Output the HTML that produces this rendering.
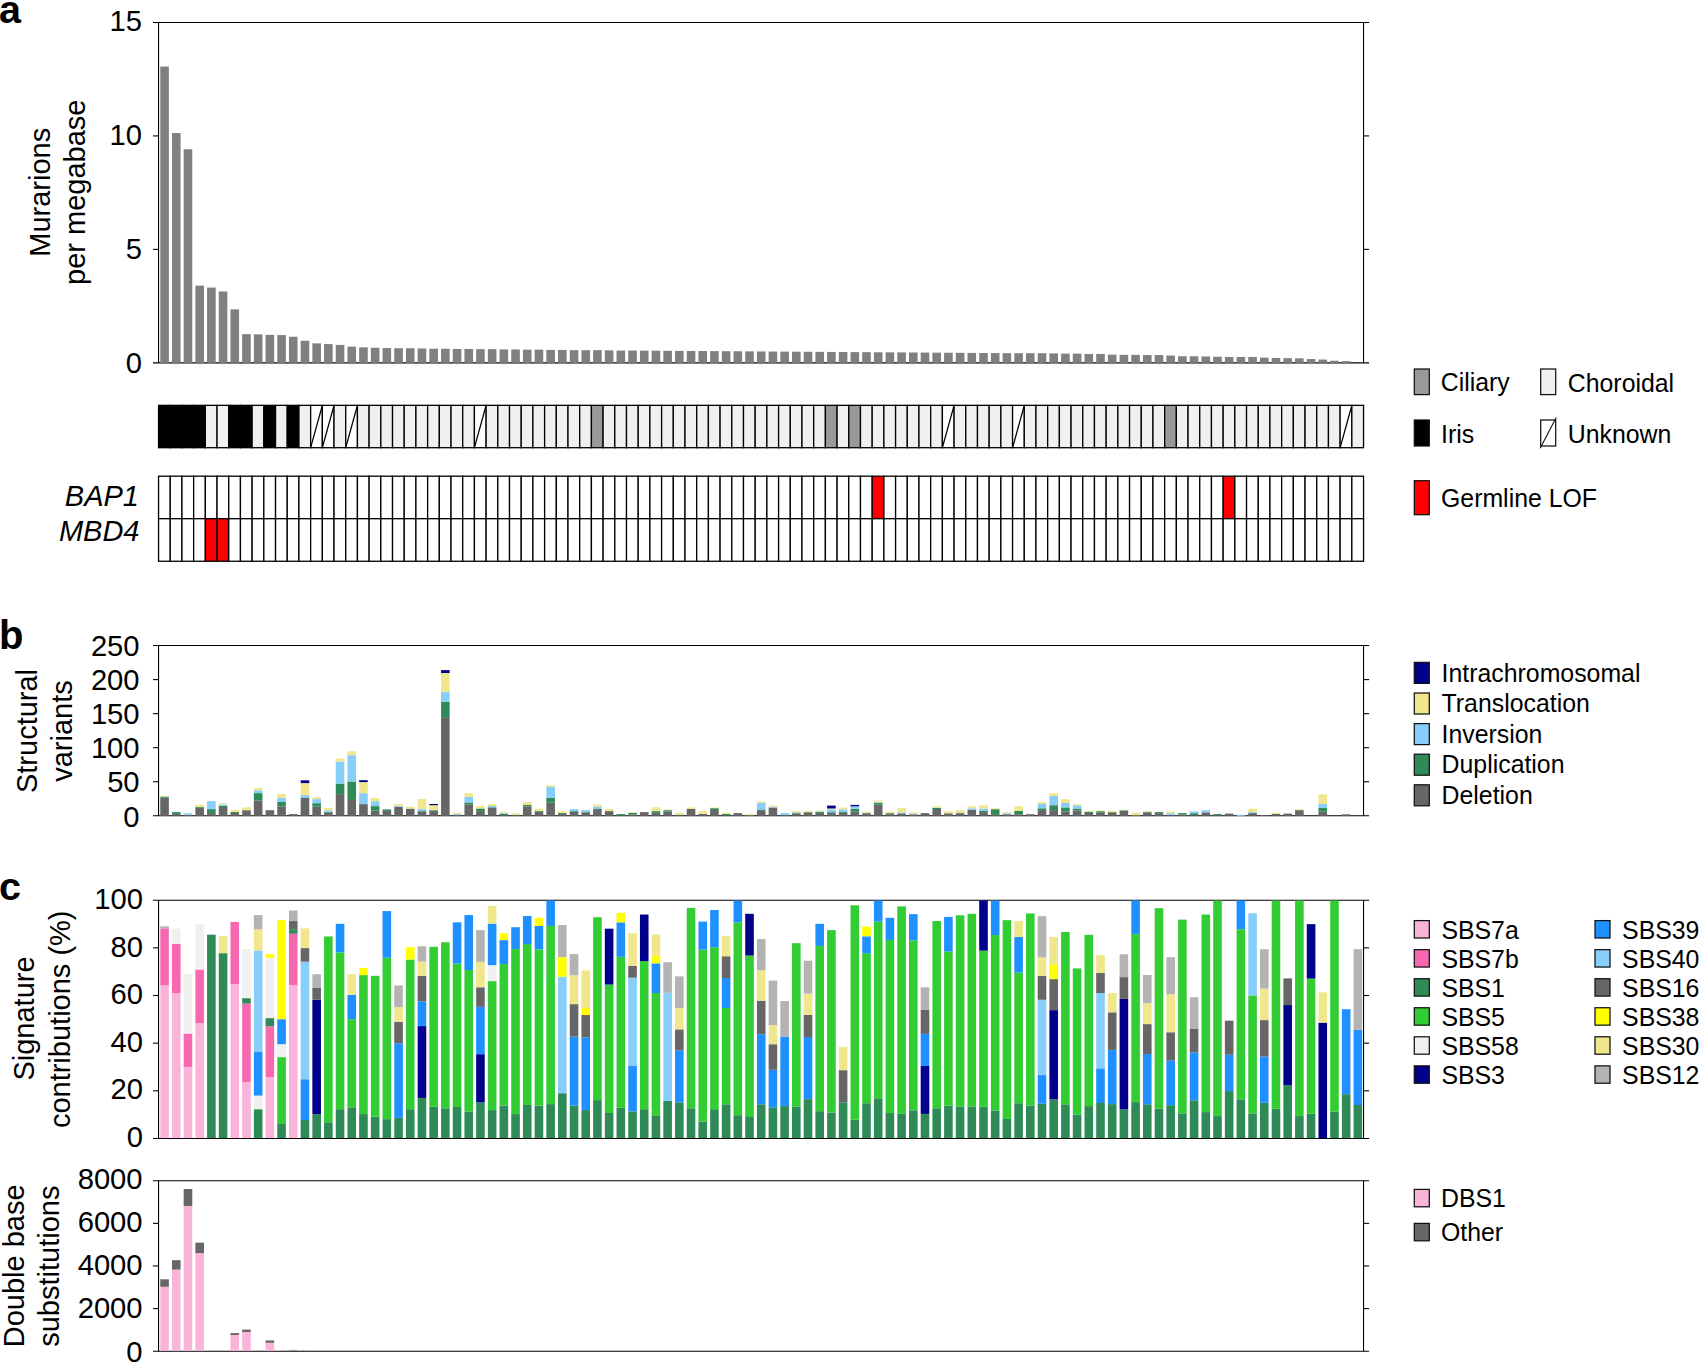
<!DOCTYPE html>
<html lang="en">
<head>
<meta charset="utf-8">
<title>Figure</title>
<style>
html,body{margin:0;padding:0;background:#fff;}
body{width:1699px;height:1363px;overflow:hidden;}
svg{display:block;font-family:"Liberation Sans",Arial,Helvetica,sans-serif;fill:#000;}
svg rect{shape-rendering:auto;}
</style>
</head>
<body>
<svg width="1699" height="1363" viewBox="0 0 1699 1363">
<rect x="0" y="0" width="1699" height="1363" fill="#fff"/>
<g id="panel-a">
<line x1="158.55" y1="22.45" x2="158.55" y2="362.85" stroke="#000" stroke-width="1.1"/>
<line x1="1363.55" y1="22.45" x2="1363.55" y2="362.85" stroke="#000" stroke-width="1.1"/>
<line x1="153" y1="22.45" x2="1369.1" y2="22.45" stroke="#000" stroke-width="1.1"/>
<line x1="153" y1="362.85" x2="1369.1" y2="362.85" stroke="#000" stroke-width="1.1"/>
<line x1="153" y1="249.38" x2="158.55" y2="249.38" stroke="#000" stroke-width="1.1"/>
<line x1="1363.55" y1="249.38" x2="1369.1" y2="249.38" stroke="#000" stroke-width="1.1"/>
<line x1="153" y1="135.92" x2="158.55" y2="135.92" stroke="#000" stroke-width="1.1"/>
<line x1="1363.55" y1="135.92" x2="1369.1" y2="135.92" stroke="#000" stroke-width="1.1"/>
<rect x="160.27" y="66.55" width="8.6" height="296.3" fill="#808080"/>
<rect x="171.97" y="133.05" width="8.6" height="229.8" fill="#808080"/>
<rect x="183.67" y="149.25" width="8.6" height="213.6" fill="#808080"/>
<rect x="195.37" y="285.65" width="8.6" height="77.2" fill="#808080"/>
<rect x="207.07" y="287.55" width="8.6" height="75.3" fill="#808080"/>
<rect x="218.77" y="291.45" width="8.6" height="71.4" fill="#808080"/>
<rect x="230.46" y="309.35" width="8.6" height="53.5" fill="#808080"/>
<rect x="242.16" y="334.15" width="8.6" height="28.7" fill="#808080"/>
<rect x="253.86" y="334.35" width="8.6" height="28.5" fill="#808080"/>
<rect x="265.56" y="334.85" width="8.6" height="28" fill="#808080"/>
<rect x="277.26" y="335.05" width="8.6" height="27.8" fill="#808080"/>
<rect x="288.96" y="336.75" width="8.6" height="26.1" fill="#808080"/>
<rect x="300.66" y="340.75" width="8.6" height="22.1" fill="#808080"/>
<rect x="312.36" y="343.35" width="8.6" height="19.5" fill="#808080"/>
<rect x="324.06" y="344.05" width="8.6" height="18.8" fill="#808080"/>
<rect x="335.75" y="344.95" width="8.6" height="17.9" fill="#808080"/>
<rect x="347.45" y="346.65" width="8.6" height="16.2" fill="#808080"/>
<rect x="359.15" y="347.35" width="8.6" height="15.5" fill="#808080"/>
<rect x="370.85" y="347.75" width="8.6" height="15.1" fill="#808080"/>
<rect x="382.55" y="348.05" width="8.6" height="14.8" fill="#808080"/>
<rect x="394.25" y="348.25" width="8.6" height="14.6" fill="#808080"/>
<rect x="405.95" y="348.25" width="8.6" height="14.6" fill="#808080"/>
<rect x="417.65" y="348.45" width="8.6" height="14.4" fill="#808080"/>
<rect x="429.35" y="348.75" width="8.6" height="14.1" fill="#808080"/>
<rect x="441.05" y="348.75" width="8.6" height="14.1" fill="#808080"/>
<rect x="452.75" y="348.95" width="8.6" height="13.9" fill="#808080"/>
<rect x="464.44" y="348.95" width="8.6" height="13.9" fill="#808080"/>
<rect x="476.14" y="349.15" width="8.6" height="13.7" fill="#808080"/>
<rect x="487.84" y="349.15" width="8.6" height="13.7" fill="#808080"/>
<rect x="499.54" y="349.45" width="8.6" height="13.4" fill="#808080"/>
<rect x="511.24" y="349.45" width="8.6" height="13.4" fill="#808080"/>
<rect x="522.94" y="349.65" width="8.6" height="13.2" fill="#808080"/>
<rect x="534.64" y="349.65" width="8.6" height="13.2" fill="#808080"/>
<rect x="546.34" y="349.95" width="8.6" height="12.9" fill="#808080"/>
<rect x="558.04" y="349.95" width="8.6" height="12.9" fill="#808080"/>
<rect x="569.74" y="350.15" width="8.6" height="12.7" fill="#808080"/>
<rect x="581.43" y="350.15" width="8.6" height="12.7" fill="#808080"/>
<rect x="593.13" y="350.15" width="8.6" height="12.7" fill="#808080"/>
<rect x="604.83" y="350.35" width="8.6" height="12.5" fill="#808080"/>
<rect x="616.53" y="350.55" width="8.6" height="12.3" fill="#808080"/>
<rect x="628.23" y="350.55" width="8.6" height="12.3" fill="#808080"/>
<rect x="639.93" y="350.63" width="8.6" height="12.22" fill="#808080"/>
<rect x="651.63" y="350.71" width="8.6" height="12.14" fill="#808080"/>
<rect x="663.33" y="350.79" width="8.6" height="12.06" fill="#808080"/>
<rect x="675.03" y="350.88" width="8.6" height="11.98" fill="#808080"/>
<rect x="686.73" y="350.96" width="8.6" height="11.89" fill="#808080"/>
<rect x="698.42" y="351.04" width="8.6" height="11.81" fill="#808080"/>
<rect x="710.12" y="351.12" width="8.6" height="11.73" fill="#808080"/>
<rect x="721.82" y="351.2" width="8.6" height="11.65" fill="#808080"/>
<rect x="733.52" y="351.28" width="8.6" height="11.57" fill="#808080"/>
<rect x="745.22" y="351.36" width="8.6" height="11.49" fill="#808080"/>
<rect x="756.92" y="351.44" width="8.6" height="11.41" fill="#808080"/>
<rect x="768.62" y="351.53" width="8.6" height="11.32" fill="#808080"/>
<rect x="780.32" y="351.61" width="8.6" height="11.24" fill="#808080"/>
<rect x="792.02" y="351.69" width="8.6" height="11.16" fill="#808080"/>
<rect x="803.71" y="351.77" width="8.6" height="11.08" fill="#808080"/>
<rect x="815.41" y="351.85" width="8.6" height="11" fill="#808080"/>
<rect x="827.11" y="351.93" width="8.6" height="10.92" fill="#808080"/>
<rect x="838.81" y="352.01" width="8.6" height="10.84" fill="#808080"/>
<rect x="850.51" y="352.09" width="8.6" height="10.76" fill="#808080"/>
<rect x="862.21" y="352.18" width="8.6" height="10.68" fill="#808080"/>
<rect x="873.91" y="352.26" width="8.6" height="10.59" fill="#808080"/>
<rect x="885.61" y="352.34" width="8.6" height="10.51" fill="#808080"/>
<rect x="897.31" y="352.42" width="8.6" height="10.43" fill="#808080"/>
<rect x="909.01" y="352.5" width="8.6" height="10.35" fill="#808080"/>
<rect x="920.7" y="352.58" width="8.6" height="10.27" fill="#808080"/>
<rect x="932.4" y="352.66" width="8.6" height="10.19" fill="#808080"/>
<rect x="944.1" y="352.74" width="8.6" height="10.11" fill="#808080"/>
<rect x="955.8" y="352.83" width="8.6" height="10.02" fill="#808080"/>
<rect x="967.5" y="352.91" width="8.6" height="9.94" fill="#808080"/>
<rect x="979.2" y="352.99" width="8.6" height="9.86" fill="#808080"/>
<rect x="990.9" y="353.07" width="8.6" height="9.78" fill="#808080"/>
<rect x="1002.6" y="353.2" width="8.6" height="9.65" fill="#808080"/>
<rect x="1014.3" y="353.2" width="8.6" height="9.65" fill="#808080"/>
<rect x="1026" y="353.2" width="8.6" height="9.65" fill="#808080"/>
<rect x="1037.69" y="353.2" width="8.6" height="9.65" fill="#808080"/>
<rect x="1049.39" y="353.45" width="8.6" height="9.4" fill="#808080"/>
<rect x="1061.09" y="353.65" width="8.6" height="9.2" fill="#808080"/>
<rect x="1072.79" y="353.65" width="8.6" height="9.2" fill="#808080"/>
<rect x="1084.49" y="353.95" width="8.6" height="8.9" fill="#808080"/>
<rect x="1096.19" y="353.95" width="8.6" height="8.9" fill="#808080"/>
<rect x="1107.89" y="354.65" width="8.6" height="8.2" fill="#808080"/>
<rect x="1119.59" y="354.85" width="8.6" height="8" fill="#808080"/>
<rect x="1131.29" y="354.85" width="8.6" height="8" fill="#808080"/>
<rect x="1142.99" y="355.05" width="8.6" height="7.8" fill="#808080"/>
<rect x="1154.68" y="355.05" width="8.6" height="7.8" fill="#808080"/>
<rect x="1166.38" y="355.55" width="8.6" height="7.3" fill="#808080"/>
<rect x="1178.08" y="356.25" width="8.6" height="6.6" fill="#808080"/>
<rect x="1189.78" y="356.25" width="8.6" height="6.6" fill="#808080"/>
<rect x="1201.48" y="356.45" width="8.6" height="6.4" fill="#808080"/>
<rect x="1213.18" y="356.75" width="8.6" height="6.1" fill="#808080"/>
<rect x="1224.88" y="356.95" width="8.6" height="5.9" fill="#808080"/>
<rect x="1236.58" y="356.95" width="8.6" height="5.9" fill="#808080"/>
<rect x="1248.28" y="356.95" width="8.6" height="5.9" fill="#808080"/>
<rect x="1259.98" y="357.65" width="8.6" height="5.2" fill="#808080"/>
<rect x="1271.67" y="357.95" width="8.6" height="4.9" fill="#808080"/>
<rect x="1283.37" y="358.15" width="8.6" height="4.7" fill="#808080"/>
<rect x="1295.07" y="358.35" width="8.6" height="4.5" fill="#808080"/>
<rect x="1306.77" y="359.05" width="8.6" height="3.8" fill="#808080"/>
<rect x="1318.47" y="359.55" width="8.6" height="3.3" fill="#808080"/>
<rect x="1330.17" y="360.75" width="8.6" height="2.1" fill="#808080"/>
<rect x="1341.87" y="361.15" width="8.6" height="1.7" fill="#808080"/>
<text x="142" y="373.15" font-size="29.2" text-anchor="end">0</text>
<text x="142" y="259.08" font-size="29.2" text-anchor="end">5</text>
<text x="142" y="145.12" font-size="29.2" text-anchor="end">10</text>
<text x="142" y="31.1" font-size="29.2" text-anchor="end">15</text>
<text transform="translate(50 192.3) rotate(-90)" font-size="29" text-anchor="middle">Murarions</text>
<text transform="translate(85.2 192.3) rotate(-90)" font-size="29" text-anchor="middle">per megabase</text>
</g>
<g id="location" stroke="#000" stroke-width="1.3">
<rect x="158.55" y="405.35" width="11.7" height="42.35" fill="#000"/>
<rect x="170.25" y="405.35" width="11.7" height="42.35" fill="#000"/>
<rect x="181.95" y="405.35" width="11.7" height="42.35" fill="#000"/>
<rect x="193.65" y="405.35" width="11.7" height="42.35" fill="#000"/>
<rect x="205.35" y="405.35" width="11.7" height="42.35" fill="#f0f0f0"/>
<rect x="217.05" y="405.35" width="11.7" height="42.35" fill="#f0f0f0"/>
<rect x="228.74" y="405.35" width="11.7" height="42.35" fill="#000"/>
<rect x="240.44" y="405.35" width="11.7" height="42.35" fill="#000"/>
<rect x="252.14" y="405.35" width="11.7" height="42.35" fill="#f0f0f0"/>
<rect x="263.84" y="405.35" width="11.7" height="42.35" fill="#000"/>
<rect x="275.54" y="405.35" width="11.7" height="42.35" fill="#f0f0f0"/>
<rect x="287.24" y="405.35" width="11.7" height="42.35" fill="#000"/>
<rect x="298.94" y="405.35" width="11.7" height="42.35" fill="#f0f0f0"/>
<rect x="310.64" y="405.35" width="11.7" height="42.35" fill="#fff"/>
<line x1="310.64" y1="447.7" x2="322.34" y2="405.35"/>
<rect x="322.34" y="405.35" width="11.7" height="42.35" fill="#fff"/>
<line x1="322.34" y1="447.7" x2="334.04" y2="405.35"/>
<rect x="334.03" y="405.35" width="11.7" height="42.35" fill="#f0f0f0"/>
<rect x="345.73" y="405.35" width="11.7" height="42.35" fill="#fff"/>
<line x1="345.73" y1="447.7" x2="357.43" y2="405.35"/>
<rect x="357.43" y="405.35" width="11.7" height="42.35" fill="#f0f0f0"/>
<rect x="369.13" y="405.35" width="11.7" height="42.35" fill="#f0f0f0"/>
<rect x="380.83" y="405.35" width="11.7" height="42.35" fill="#f0f0f0"/>
<rect x="392.53" y="405.35" width="11.7" height="42.35" fill="#f0f0f0"/>
<rect x="404.23" y="405.35" width="11.7" height="42.35" fill="#f0f0f0"/>
<rect x="415.93" y="405.35" width="11.7" height="42.35" fill="#f0f0f0"/>
<rect x="427.63" y="405.35" width="11.7" height="42.35" fill="#f0f0f0"/>
<rect x="439.33" y="405.35" width="11.7" height="42.35" fill="#f0f0f0"/>
<rect x="451.03" y="405.35" width="11.7" height="42.35" fill="#f0f0f0"/>
<rect x="462.72" y="405.35" width="11.7" height="42.35" fill="#f0f0f0"/>
<rect x="474.42" y="405.35" width="11.7" height="42.35" fill="#fff"/>
<line x1="474.42" y1="447.7" x2="486.12" y2="405.35"/>
<rect x="486.12" y="405.35" width="11.7" height="42.35" fill="#f0f0f0"/>
<rect x="497.82" y="405.35" width="11.7" height="42.35" fill="#f0f0f0"/>
<rect x="509.52" y="405.35" width="11.7" height="42.35" fill="#f0f0f0"/>
<rect x="521.22" y="405.35" width="11.7" height="42.35" fill="#f0f0f0"/>
<rect x="532.92" y="405.35" width="11.7" height="42.35" fill="#f0f0f0"/>
<rect x="544.62" y="405.35" width="11.7" height="42.35" fill="#f0f0f0"/>
<rect x="556.32" y="405.35" width="11.7" height="42.35" fill="#f0f0f0"/>
<rect x="568.01" y="405.35" width="11.7" height="42.35" fill="#f0f0f0"/>
<rect x="579.71" y="405.35" width="11.7" height="42.35" fill="#f0f0f0"/>
<rect x="591.41" y="405.35" width="11.7" height="42.35" fill="#999"/>
<rect x="603.11" y="405.35" width="11.7" height="42.35" fill="#f0f0f0"/>
<rect x="614.81" y="405.35" width="11.7" height="42.35" fill="#f0f0f0"/>
<rect x="626.51" y="405.35" width="11.7" height="42.35" fill="#f0f0f0"/>
<rect x="638.21" y="405.35" width="11.7" height="42.35" fill="#f0f0f0"/>
<rect x="649.91" y="405.35" width="11.7" height="42.35" fill="#f0f0f0"/>
<rect x="661.61" y="405.35" width="11.7" height="42.35" fill="#f0f0f0"/>
<rect x="673.31" y="405.35" width="11.7" height="42.35" fill="#f0f0f0"/>
<rect x="685.01" y="405.35" width="11.7" height="42.35" fill="#f0f0f0"/>
<rect x="696.7" y="405.35" width="11.7" height="42.35" fill="#f0f0f0"/>
<rect x="708.4" y="405.35" width="11.7" height="42.35" fill="#f0f0f0"/>
<rect x="720.1" y="405.35" width="11.7" height="42.35" fill="#f0f0f0"/>
<rect x="731.8" y="405.35" width="11.7" height="42.35" fill="#f0f0f0"/>
<rect x="743.5" y="405.35" width="11.7" height="42.35" fill="#f0f0f0"/>
<rect x="755.2" y="405.35" width="11.7" height="42.35" fill="#f0f0f0"/>
<rect x="766.9" y="405.35" width="11.7" height="42.35" fill="#f0f0f0"/>
<rect x="778.6" y="405.35" width="11.7" height="42.35" fill="#f0f0f0"/>
<rect x="790.3" y="405.35" width="11.7" height="42.35" fill="#f0f0f0"/>
<rect x="801.99" y="405.35" width="11.7" height="42.35" fill="#f0f0f0"/>
<rect x="813.69" y="405.35" width="11.7" height="42.35" fill="#f0f0f0"/>
<rect x="825.39" y="405.35" width="11.7" height="42.35" fill="#999"/>
<rect x="837.09" y="405.35" width="11.7" height="42.35" fill="#f0f0f0"/>
<rect x="848.79" y="405.35" width="11.7" height="42.35" fill="#999"/>
<rect x="860.49" y="405.35" width="11.7" height="42.35" fill="#f0f0f0"/>
<rect x="872.19" y="405.35" width="11.7" height="42.35" fill="#f0f0f0"/>
<rect x="883.89" y="405.35" width="11.7" height="42.35" fill="#f0f0f0"/>
<rect x="895.59" y="405.35" width="11.7" height="42.35" fill="#f0f0f0"/>
<rect x="907.29" y="405.35" width="11.7" height="42.35" fill="#f0f0f0"/>
<rect x="918.98" y="405.35" width="11.7" height="42.35" fill="#f0f0f0"/>
<rect x="930.68" y="405.35" width="11.7" height="42.35" fill="#f0f0f0"/>
<rect x="942.38" y="405.35" width="11.7" height="42.35" fill="#fff"/>
<line x1="942.38" y1="447.7" x2="954.08" y2="405.35"/>
<rect x="954.08" y="405.35" width="11.7" height="42.35" fill="#f0f0f0"/>
<rect x="965.78" y="405.35" width="11.7" height="42.35" fill="#f0f0f0"/>
<rect x="977.48" y="405.35" width="11.7" height="42.35" fill="#f0f0f0"/>
<rect x="989.18" y="405.35" width="11.7" height="42.35" fill="#f0f0f0"/>
<rect x="1000.88" y="405.35" width="11.7" height="42.35" fill="#f0f0f0"/>
<rect x="1012.58" y="405.35" width="11.7" height="42.35" fill="#fff"/>
<line x1="1012.58" y1="447.7" x2="1024.28" y2="405.35"/>
<rect x="1024.28" y="405.35" width="11.7" height="42.35" fill="#f0f0f0"/>
<rect x="1035.97" y="405.35" width="11.7" height="42.35" fill="#f0f0f0"/>
<rect x="1047.67" y="405.35" width="11.7" height="42.35" fill="#f0f0f0"/>
<rect x="1059.37" y="405.35" width="11.7" height="42.35" fill="#f0f0f0"/>
<rect x="1071.07" y="405.35" width="11.7" height="42.35" fill="#f0f0f0"/>
<rect x="1082.77" y="405.35" width="11.7" height="42.35" fill="#f0f0f0"/>
<rect x="1094.47" y="405.35" width="11.7" height="42.35" fill="#f0f0f0"/>
<rect x="1106.17" y="405.35" width="11.7" height="42.35" fill="#f0f0f0"/>
<rect x="1117.87" y="405.35" width="11.7" height="42.35" fill="#f0f0f0"/>
<rect x="1129.57" y="405.35" width="11.7" height="42.35" fill="#f0f0f0"/>
<rect x="1141.27" y="405.35" width="11.7" height="42.35" fill="#f0f0f0"/>
<rect x="1152.96" y="405.35" width="11.7" height="42.35" fill="#f0f0f0"/>
<rect x="1164.66" y="405.35" width="11.7" height="42.35" fill="#999"/>
<rect x="1176.36" y="405.35" width="11.7" height="42.35" fill="#f0f0f0"/>
<rect x="1188.06" y="405.35" width="11.7" height="42.35" fill="#f0f0f0"/>
<rect x="1199.76" y="405.35" width="11.7" height="42.35" fill="#f0f0f0"/>
<rect x="1211.46" y="405.35" width="11.7" height="42.35" fill="#f0f0f0"/>
<rect x="1223.16" y="405.35" width="11.7" height="42.35" fill="#f0f0f0"/>
<rect x="1234.86" y="405.35" width="11.7" height="42.35" fill="#f0f0f0"/>
<rect x="1246.56" y="405.35" width="11.7" height="42.35" fill="#f0f0f0"/>
<rect x="1258.26" y="405.35" width="11.7" height="42.35" fill="#f0f0f0"/>
<rect x="1269.95" y="405.35" width="11.7" height="42.35" fill="#f0f0f0"/>
<rect x="1281.65" y="405.35" width="11.7" height="42.35" fill="#f0f0f0"/>
<rect x="1293.35" y="405.35" width="11.7" height="42.35" fill="#f0f0f0"/>
<rect x="1305.05" y="405.35" width="11.7" height="42.35" fill="#f0f0f0"/>
<rect x="1316.75" y="405.35" width="11.7" height="42.35" fill="#f0f0f0"/>
<rect x="1328.45" y="405.35" width="11.7" height="42.35" fill="#f0f0f0"/>
<rect x="1340.15" y="405.35" width="11.7" height="42.35" fill="#fff"/>
<line x1="1340.15" y1="447.7" x2="1351.85" y2="405.35"/>
<rect x="1351.85" y="405.35" width="11.7" height="42.35" fill="#f0f0f0"/>
</g>
<g id="genes" stroke="#000" stroke-width="1.3">
<rect x="158.55" y="476.2" width="11.7" height="42.5" fill="#fff"/>
<rect x="158.55" y="518.7" width="11.7" height="42.55" fill="#fff"/>
<rect x="170.25" y="476.2" width="11.7" height="42.5" fill="#fff"/>
<rect x="170.25" y="518.7" width="11.7" height="42.55" fill="#fff"/>
<rect x="181.95" y="476.2" width="11.7" height="42.5" fill="#fff"/>
<rect x="181.95" y="518.7" width="11.7" height="42.55" fill="#fff"/>
<rect x="193.65" y="476.2" width="11.7" height="42.5" fill="#fff"/>
<rect x="193.65" y="518.7" width="11.7" height="42.55" fill="#fff"/>
<rect x="205.35" y="476.2" width="11.7" height="42.5" fill="#fff"/>
<rect x="205.35" y="518.7" width="11.7" height="42.55" fill="#f00"/>
<rect x="217.05" y="476.2" width="11.7" height="42.5" fill="#fff"/>
<rect x="217.05" y="518.7" width="11.7" height="42.55" fill="#f00"/>
<rect x="228.74" y="476.2" width="11.7" height="42.5" fill="#fff"/>
<rect x="228.74" y="518.7" width="11.7" height="42.55" fill="#fff"/>
<rect x="240.44" y="476.2" width="11.7" height="42.5" fill="#fff"/>
<rect x="240.44" y="518.7" width="11.7" height="42.55" fill="#fff"/>
<rect x="252.14" y="476.2" width="11.7" height="42.5" fill="#fff"/>
<rect x="252.14" y="518.7" width="11.7" height="42.55" fill="#fff"/>
<rect x="263.84" y="476.2" width="11.7" height="42.5" fill="#fff"/>
<rect x="263.84" y="518.7" width="11.7" height="42.55" fill="#fff"/>
<rect x="275.54" y="476.2" width="11.7" height="42.5" fill="#fff"/>
<rect x="275.54" y="518.7" width="11.7" height="42.55" fill="#fff"/>
<rect x="287.24" y="476.2" width="11.7" height="42.5" fill="#fff"/>
<rect x="287.24" y="518.7" width="11.7" height="42.55" fill="#fff"/>
<rect x="298.94" y="476.2" width="11.7" height="42.5" fill="#fff"/>
<rect x="298.94" y="518.7" width="11.7" height="42.55" fill="#fff"/>
<rect x="310.64" y="476.2" width="11.7" height="42.5" fill="#fff"/>
<rect x="310.64" y="518.7" width="11.7" height="42.55" fill="#fff"/>
<rect x="322.34" y="476.2" width="11.7" height="42.5" fill="#fff"/>
<rect x="322.34" y="518.7" width="11.7" height="42.55" fill="#fff"/>
<rect x="334.03" y="476.2" width="11.7" height="42.5" fill="#fff"/>
<rect x="334.03" y="518.7" width="11.7" height="42.55" fill="#fff"/>
<rect x="345.73" y="476.2" width="11.7" height="42.5" fill="#fff"/>
<rect x="345.73" y="518.7" width="11.7" height="42.55" fill="#fff"/>
<rect x="357.43" y="476.2" width="11.7" height="42.5" fill="#fff"/>
<rect x="357.43" y="518.7" width="11.7" height="42.55" fill="#fff"/>
<rect x="369.13" y="476.2" width="11.7" height="42.5" fill="#fff"/>
<rect x="369.13" y="518.7" width="11.7" height="42.55" fill="#fff"/>
<rect x="380.83" y="476.2" width="11.7" height="42.5" fill="#fff"/>
<rect x="380.83" y="518.7" width="11.7" height="42.55" fill="#fff"/>
<rect x="392.53" y="476.2" width="11.7" height="42.5" fill="#fff"/>
<rect x="392.53" y="518.7" width="11.7" height="42.55" fill="#fff"/>
<rect x="404.23" y="476.2" width="11.7" height="42.5" fill="#fff"/>
<rect x="404.23" y="518.7" width="11.7" height="42.55" fill="#fff"/>
<rect x="415.93" y="476.2" width="11.7" height="42.5" fill="#fff"/>
<rect x="415.93" y="518.7" width="11.7" height="42.55" fill="#fff"/>
<rect x="427.63" y="476.2" width="11.7" height="42.5" fill="#fff"/>
<rect x="427.63" y="518.7" width="11.7" height="42.55" fill="#fff"/>
<rect x="439.33" y="476.2" width="11.7" height="42.5" fill="#fff"/>
<rect x="439.33" y="518.7" width="11.7" height="42.55" fill="#fff"/>
<rect x="451.03" y="476.2" width="11.7" height="42.5" fill="#fff"/>
<rect x="451.03" y="518.7" width="11.7" height="42.55" fill="#fff"/>
<rect x="462.72" y="476.2" width="11.7" height="42.5" fill="#fff"/>
<rect x="462.72" y="518.7" width="11.7" height="42.55" fill="#fff"/>
<rect x="474.42" y="476.2" width="11.7" height="42.5" fill="#fff"/>
<rect x="474.42" y="518.7" width="11.7" height="42.55" fill="#fff"/>
<rect x="486.12" y="476.2" width="11.7" height="42.5" fill="#fff"/>
<rect x="486.12" y="518.7" width="11.7" height="42.55" fill="#fff"/>
<rect x="497.82" y="476.2" width="11.7" height="42.5" fill="#fff"/>
<rect x="497.82" y="518.7" width="11.7" height="42.55" fill="#fff"/>
<rect x="509.52" y="476.2" width="11.7" height="42.5" fill="#fff"/>
<rect x="509.52" y="518.7" width="11.7" height="42.55" fill="#fff"/>
<rect x="521.22" y="476.2" width="11.7" height="42.5" fill="#fff"/>
<rect x="521.22" y="518.7" width="11.7" height="42.55" fill="#fff"/>
<rect x="532.92" y="476.2" width="11.7" height="42.5" fill="#fff"/>
<rect x="532.92" y="518.7" width="11.7" height="42.55" fill="#fff"/>
<rect x="544.62" y="476.2" width="11.7" height="42.5" fill="#fff"/>
<rect x="544.62" y="518.7" width="11.7" height="42.55" fill="#fff"/>
<rect x="556.32" y="476.2" width="11.7" height="42.5" fill="#fff"/>
<rect x="556.32" y="518.7" width="11.7" height="42.55" fill="#fff"/>
<rect x="568.01" y="476.2" width="11.7" height="42.5" fill="#fff"/>
<rect x="568.01" y="518.7" width="11.7" height="42.55" fill="#fff"/>
<rect x="579.71" y="476.2" width="11.7" height="42.5" fill="#fff"/>
<rect x="579.71" y="518.7" width="11.7" height="42.55" fill="#fff"/>
<rect x="591.41" y="476.2" width="11.7" height="42.5" fill="#fff"/>
<rect x="591.41" y="518.7" width="11.7" height="42.55" fill="#fff"/>
<rect x="603.11" y="476.2" width="11.7" height="42.5" fill="#fff"/>
<rect x="603.11" y="518.7" width="11.7" height="42.55" fill="#fff"/>
<rect x="614.81" y="476.2" width="11.7" height="42.5" fill="#fff"/>
<rect x="614.81" y="518.7" width="11.7" height="42.55" fill="#fff"/>
<rect x="626.51" y="476.2" width="11.7" height="42.5" fill="#fff"/>
<rect x="626.51" y="518.7" width="11.7" height="42.55" fill="#fff"/>
<rect x="638.21" y="476.2" width="11.7" height="42.5" fill="#fff"/>
<rect x="638.21" y="518.7" width="11.7" height="42.55" fill="#fff"/>
<rect x="649.91" y="476.2" width="11.7" height="42.5" fill="#fff"/>
<rect x="649.91" y="518.7" width="11.7" height="42.55" fill="#fff"/>
<rect x="661.61" y="476.2" width="11.7" height="42.5" fill="#fff"/>
<rect x="661.61" y="518.7" width="11.7" height="42.55" fill="#fff"/>
<rect x="673.31" y="476.2" width="11.7" height="42.5" fill="#fff"/>
<rect x="673.31" y="518.7" width="11.7" height="42.55" fill="#fff"/>
<rect x="685.01" y="476.2" width="11.7" height="42.5" fill="#fff"/>
<rect x="685.01" y="518.7" width="11.7" height="42.55" fill="#fff"/>
<rect x="696.7" y="476.2" width="11.7" height="42.5" fill="#fff"/>
<rect x="696.7" y="518.7" width="11.7" height="42.55" fill="#fff"/>
<rect x="708.4" y="476.2" width="11.7" height="42.5" fill="#fff"/>
<rect x="708.4" y="518.7" width="11.7" height="42.55" fill="#fff"/>
<rect x="720.1" y="476.2" width="11.7" height="42.5" fill="#fff"/>
<rect x="720.1" y="518.7" width="11.7" height="42.55" fill="#fff"/>
<rect x="731.8" y="476.2" width="11.7" height="42.5" fill="#fff"/>
<rect x="731.8" y="518.7" width="11.7" height="42.55" fill="#fff"/>
<rect x="743.5" y="476.2" width="11.7" height="42.5" fill="#fff"/>
<rect x="743.5" y="518.7" width="11.7" height="42.55" fill="#fff"/>
<rect x="755.2" y="476.2" width="11.7" height="42.5" fill="#fff"/>
<rect x="755.2" y="518.7" width="11.7" height="42.55" fill="#fff"/>
<rect x="766.9" y="476.2" width="11.7" height="42.5" fill="#fff"/>
<rect x="766.9" y="518.7" width="11.7" height="42.55" fill="#fff"/>
<rect x="778.6" y="476.2" width="11.7" height="42.5" fill="#fff"/>
<rect x="778.6" y="518.7" width="11.7" height="42.55" fill="#fff"/>
<rect x="790.3" y="476.2" width="11.7" height="42.5" fill="#fff"/>
<rect x="790.3" y="518.7" width="11.7" height="42.55" fill="#fff"/>
<rect x="801.99" y="476.2" width="11.7" height="42.5" fill="#fff"/>
<rect x="801.99" y="518.7" width="11.7" height="42.55" fill="#fff"/>
<rect x="813.69" y="476.2" width="11.7" height="42.5" fill="#fff"/>
<rect x="813.69" y="518.7" width="11.7" height="42.55" fill="#fff"/>
<rect x="825.39" y="476.2" width="11.7" height="42.5" fill="#fff"/>
<rect x="825.39" y="518.7" width="11.7" height="42.55" fill="#fff"/>
<rect x="837.09" y="476.2" width="11.7" height="42.5" fill="#fff"/>
<rect x="837.09" y="518.7" width="11.7" height="42.55" fill="#fff"/>
<rect x="848.79" y="476.2" width="11.7" height="42.5" fill="#fff"/>
<rect x="848.79" y="518.7" width="11.7" height="42.55" fill="#fff"/>
<rect x="860.49" y="476.2" width="11.7" height="42.5" fill="#fff"/>
<rect x="860.49" y="518.7" width="11.7" height="42.55" fill="#fff"/>
<rect x="872.19" y="476.2" width="11.7" height="42.5" fill="#f00"/>
<rect x="872.19" y="518.7" width="11.7" height="42.55" fill="#fff"/>
<rect x="883.89" y="476.2" width="11.7" height="42.5" fill="#fff"/>
<rect x="883.89" y="518.7" width="11.7" height="42.55" fill="#fff"/>
<rect x="895.59" y="476.2" width="11.7" height="42.5" fill="#fff"/>
<rect x="895.59" y="518.7" width="11.7" height="42.55" fill="#fff"/>
<rect x="907.29" y="476.2" width="11.7" height="42.5" fill="#fff"/>
<rect x="907.29" y="518.7" width="11.7" height="42.55" fill="#fff"/>
<rect x="918.98" y="476.2" width="11.7" height="42.5" fill="#fff"/>
<rect x="918.98" y="518.7" width="11.7" height="42.55" fill="#fff"/>
<rect x="930.68" y="476.2" width="11.7" height="42.5" fill="#fff"/>
<rect x="930.68" y="518.7" width="11.7" height="42.55" fill="#fff"/>
<rect x="942.38" y="476.2" width="11.7" height="42.5" fill="#fff"/>
<rect x="942.38" y="518.7" width="11.7" height="42.55" fill="#fff"/>
<rect x="954.08" y="476.2" width="11.7" height="42.5" fill="#fff"/>
<rect x="954.08" y="518.7" width="11.7" height="42.55" fill="#fff"/>
<rect x="965.78" y="476.2" width="11.7" height="42.5" fill="#fff"/>
<rect x="965.78" y="518.7" width="11.7" height="42.55" fill="#fff"/>
<rect x="977.48" y="476.2" width="11.7" height="42.5" fill="#fff"/>
<rect x="977.48" y="518.7" width="11.7" height="42.55" fill="#fff"/>
<rect x="989.18" y="476.2" width="11.7" height="42.5" fill="#fff"/>
<rect x="989.18" y="518.7" width="11.7" height="42.55" fill="#fff"/>
<rect x="1000.88" y="476.2" width="11.7" height="42.5" fill="#fff"/>
<rect x="1000.88" y="518.7" width="11.7" height="42.55" fill="#fff"/>
<rect x="1012.58" y="476.2" width="11.7" height="42.5" fill="#fff"/>
<rect x="1012.58" y="518.7" width="11.7" height="42.55" fill="#fff"/>
<rect x="1024.28" y="476.2" width="11.7" height="42.5" fill="#fff"/>
<rect x="1024.28" y="518.7" width="11.7" height="42.55" fill="#fff"/>
<rect x="1035.97" y="476.2" width="11.7" height="42.5" fill="#fff"/>
<rect x="1035.97" y="518.7" width="11.7" height="42.55" fill="#fff"/>
<rect x="1047.67" y="476.2" width="11.7" height="42.5" fill="#fff"/>
<rect x="1047.67" y="518.7" width="11.7" height="42.55" fill="#fff"/>
<rect x="1059.37" y="476.2" width="11.7" height="42.5" fill="#fff"/>
<rect x="1059.37" y="518.7" width="11.7" height="42.55" fill="#fff"/>
<rect x="1071.07" y="476.2" width="11.7" height="42.5" fill="#fff"/>
<rect x="1071.07" y="518.7" width="11.7" height="42.55" fill="#fff"/>
<rect x="1082.77" y="476.2" width="11.7" height="42.5" fill="#fff"/>
<rect x="1082.77" y="518.7" width="11.7" height="42.55" fill="#fff"/>
<rect x="1094.47" y="476.2" width="11.7" height="42.5" fill="#fff"/>
<rect x="1094.47" y="518.7" width="11.7" height="42.55" fill="#fff"/>
<rect x="1106.17" y="476.2" width="11.7" height="42.5" fill="#fff"/>
<rect x="1106.17" y="518.7" width="11.7" height="42.55" fill="#fff"/>
<rect x="1117.87" y="476.2" width="11.7" height="42.5" fill="#fff"/>
<rect x="1117.87" y="518.7" width="11.7" height="42.55" fill="#fff"/>
<rect x="1129.57" y="476.2" width="11.7" height="42.5" fill="#fff"/>
<rect x="1129.57" y="518.7" width="11.7" height="42.55" fill="#fff"/>
<rect x="1141.27" y="476.2" width="11.7" height="42.5" fill="#fff"/>
<rect x="1141.27" y="518.7" width="11.7" height="42.55" fill="#fff"/>
<rect x="1152.96" y="476.2" width="11.7" height="42.5" fill="#fff"/>
<rect x="1152.96" y="518.7" width="11.7" height="42.55" fill="#fff"/>
<rect x="1164.66" y="476.2" width="11.7" height="42.5" fill="#fff"/>
<rect x="1164.66" y="518.7" width="11.7" height="42.55" fill="#fff"/>
<rect x="1176.36" y="476.2" width="11.7" height="42.5" fill="#fff"/>
<rect x="1176.36" y="518.7" width="11.7" height="42.55" fill="#fff"/>
<rect x="1188.06" y="476.2" width="11.7" height="42.5" fill="#fff"/>
<rect x="1188.06" y="518.7" width="11.7" height="42.55" fill="#fff"/>
<rect x="1199.76" y="476.2" width="11.7" height="42.5" fill="#fff"/>
<rect x="1199.76" y="518.7" width="11.7" height="42.55" fill="#fff"/>
<rect x="1211.46" y="476.2" width="11.7" height="42.5" fill="#fff"/>
<rect x="1211.46" y="518.7" width="11.7" height="42.55" fill="#fff"/>
<rect x="1223.16" y="476.2" width="11.7" height="42.5" fill="#f00"/>
<rect x="1223.16" y="518.7" width="11.7" height="42.55" fill="#fff"/>
<rect x="1234.86" y="476.2" width="11.7" height="42.5" fill="#fff"/>
<rect x="1234.86" y="518.7" width="11.7" height="42.55" fill="#fff"/>
<rect x="1246.56" y="476.2" width="11.7" height="42.5" fill="#fff"/>
<rect x="1246.56" y="518.7" width="11.7" height="42.55" fill="#fff"/>
<rect x="1258.26" y="476.2" width="11.7" height="42.5" fill="#fff"/>
<rect x="1258.26" y="518.7" width="11.7" height="42.55" fill="#fff"/>
<rect x="1269.95" y="476.2" width="11.7" height="42.5" fill="#fff"/>
<rect x="1269.95" y="518.7" width="11.7" height="42.55" fill="#fff"/>
<rect x="1281.65" y="476.2" width="11.7" height="42.5" fill="#fff"/>
<rect x="1281.65" y="518.7" width="11.7" height="42.55" fill="#fff"/>
<rect x="1293.35" y="476.2" width="11.7" height="42.5" fill="#fff"/>
<rect x="1293.35" y="518.7" width="11.7" height="42.55" fill="#fff"/>
<rect x="1305.05" y="476.2" width="11.7" height="42.5" fill="#fff"/>
<rect x="1305.05" y="518.7" width="11.7" height="42.55" fill="#fff"/>
<rect x="1316.75" y="476.2" width="11.7" height="42.5" fill="#fff"/>
<rect x="1316.75" y="518.7" width="11.7" height="42.55" fill="#fff"/>
<rect x="1328.45" y="476.2" width="11.7" height="42.5" fill="#fff"/>
<rect x="1328.45" y="518.7" width="11.7" height="42.55" fill="#fff"/>
<rect x="1340.15" y="476.2" width="11.7" height="42.5" fill="#fff"/>
<rect x="1340.15" y="518.7" width="11.7" height="42.55" fill="#fff"/>
<rect x="1351.85" y="476.2" width="11.7" height="42.5" fill="#fff"/>
<rect x="1351.85" y="518.7" width="11.7" height="42.55" fill="#fff"/>
</g>
<text x="139" y="506.4" font-size="29" text-anchor="end" font-style="italic">BAP1</text>
<text x="139.5" y="541.1" font-size="29" text-anchor="end" font-style="italic">MBD4</text>
<rect x="1414.3" y="369" width="15" height="25.6" fill="#999" stroke="#111" stroke-width="1.25"/>
<text x="1440.7" y="391" font-size="24.85" text-anchor="start">Ciliary</text>
<rect x="1540.7" y="369" width="15" height="25.6" fill="#f0f0f0" stroke="#111" stroke-width="1.25"/>
<text x="1567.8" y="392.2" font-size="24.85" text-anchor="start">Choroidal</text>
<rect x="1414.3" y="420" width="15" height="26" fill="#000" stroke="#111" stroke-width="1.25"/>
<text x="1441" y="443.3" font-size="24.85" text-anchor="start">Iris</text>
<rect x="1540.7" y="420" width="15" height="26" fill="#fff" stroke="#111" stroke-width="1.25"/>
<line x1="1540.2" y1="448.2" x2="1556.2" y2="417.4" stroke="#111" stroke-width="1.1"/>
<text x="1567.8" y="443.3" font-size="24.85" text-anchor="start">Unknown</text>
<rect x="1414.3" y="480.7" width="15" height="34" fill="#f00" stroke="#111" stroke-width="1.25"/>
<text x="1441" y="506.8" font-size="24.85" text-anchor="start">Germline LOF</text>
<g id="panel-b">
<line x1="158.55" y1="645.55" x2="158.55" y2="815.8" stroke="#000" stroke-width="1.1"/>
<line x1="1363.55" y1="645.55" x2="1363.55" y2="815.8" stroke="#000" stroke-width="1.1"/>
<line x1="153" y1="645.55" x2="1369.1" y2="645.55" stroke="#000" stroke-width="1.1"/>
<line x1="153" y1="815.8" x2="1369.1" y2="815.8" stroke="#000" stroke-width="1.1"/>
<line x1="153" y1="781.75" x2="158.55" y2="781.75" stroke="#000" stroke-width="1.1"/>
<line x1="1363.55" y1="781.75" x2="1369.1" y2="781.75" stroke="#000" stroke-width="1.1"/>
<line x1="153" y1="747.7" x2="158.55" y2="747.7" stroke="#000" stroke-width="1.1"/>
<line x1="1363.55" y1="747.7" x2="1369.1" y2="747.7" stroke="#000" stroke-width="1.1"/>
<line x1="153" y1="713.65" x2="158.55" y2="713.65" stroke="#000" stroke-width="1.1"/>
<line x1="1363.55" y1="713.65" x2="1369.1" y2="713.65" stroke="#000" stroke-width="1.1"/>
<line x1="153" y1="679.6" x2="158.55" y2="679.6" stroke="#000" stroke-width="1.1"/>
<line x1="1363.55" y1="679.6" x2="1369.1" y2="679.6" stroke="#000" stroke-width="1.1"/>
<rect x="160.27" y="797.8" width="8.6" height="18" fill="#666666"/>
<rect x="160.27" y="796.6" width="8.6" height="1.2" fill="#2e8b57"/>
<rect x="160.27" y="795.7" width="8.6" height="0.9" fill="#f0e68c"/>
<rect x="171.97" y="813.9" width="8.6" height="1.9" fill="#666666"/>
<rect x="171.97" y="812.1" width="8.6" height="1.8" fill="#2e8b57"/>
<rect x="183.67" y="814.8" width="8.6" height="1" fill="#666666"/>
<rect x="183.67" y="813.3" width="8.6" height="1.5" fill="#87cefa"/>
<rect x="195.37" y="807.8" width="8.6" height="8" fill="#666666"/>
<rect x="195.37" y="807" width="8.6" height="0.8" fill="#2e8b57"/>
<rect x="195.37" y="804.9" width="8.6" height="2.1" fill="#f0e68c"/>
<rect x="207.07" y="813.1" width="8.6" height="2.7" fill="#666666"/>
<rect x="207.07" y="809.1" width="8.6" height="4" fill="#2e8b57"/>
<rect x="207.07" y="801.1" width="8.6" height="8" fill="#87cefa"/>
<rect x="218.77" y="807" width="8.6" height="8.8" fill="#666666"/>
<rect x="218.77" y="805.8" width="8.6" height="1.2" fill="#2e8b57"/>
<rect x="218.77" y="804.4" width="8.6" height="1.4" fill="#87cefa"/>
<rect x="218.77" y="803.2" width="8.6" height="1.2" fill="#f0e68c"/>
<rect x="230.46" y="812.9" width="8.6" height="2.9" fill="#666666"/>
<rect x="230.46" y="812" width="8.6" height="0.9" fill="#2e8b57"/>
<rect x="230.46" y="810.1" width="8.6" height="1.9" fill="#f0e68c"/>
<rect x="242.16" y="810.2" width="8.6" height="5.6" fill="#666666"/>
<rect x="242.16" y="807.4" width="8.6" height="2.8" fill="#f0e68c"/>
<rect x="253.86" y="800.5" width="8.6" height="15.3" fill="#666666"/>
<rect x="253.86" y="793.1" width="8.6" height="7.4" fill="#2e8b57"/>
<rect x="253.86" y="790.3" width="8.6" height="2.8" fill="#87cefa"/>
<rect x="253.86" y="787.9" width="8.6" height="2.4" fill="#f0e68c"/>
<rect x="265.56" y="810.2" width="8.6" height="5.6" fill="#666666"/>
<rect x="277.26" y="806.6" width="8.6" height="9.2" fill="#666666"/>
<rect x="277.26" y="802" width="8.6" height="4.6" fill="#2e8b57"/>
<rect x="277.26" y="797.9" width="8.6" height="4.1" fill="#87cefa"/>
<rect x="277.26" y="793.9" width="8.6" height="4" fill="#f0e68c"/>
<rect x="288.96" y="814.1" width="8.6" height="1.7" fill="#666666"/>
<rect x="300.66" y="798" width="8.6" height="17.8" fill="#666666"/>
<rect x="300.66" y="795.1" width="8.6" height="2.9" fill="#87cefa"/>
<rect x="300.66" y="783.1" width="8.6" height="12" fill="#f0e68c"/>
<rect x="300.66" y="780.3" width="8.6" height="2.8" fill="#00008b"/>
<rect x="312.36" y="806.6" width="8.6" height="9.2" fill="#666666"/>
<rect x="312.36" y="803.2" width="8.6" height="3.4" fill="#2e8b57"/>
<rect x="312.36" y="799.1" width="8.6" height="4.1" fill="#87cefa"/>
<rect x="312.36" y="797.3" width="8.6" height="1.8" fill="#f0e68c"/>
<rect x="324.06" y="812.6" width="8.6" height="3.2" fill="#666666"/>
<rect x="324.06" y="811.8" width="8.6" height="0.8" fill="#2e8b57"/>
<rect x="324.06" y="810.3" width="8.6" height="1.5" fill="#87cefa"/>
<rect x="324.06" y="808.1" width="8.6" height="2.2" fill="#f0e68c"/>
<rect x="335.75" y="794.1" width="8.6" height="21.7" fill="#666666"/>
<rect x="335.75" y="783.5" width="8.6" height="10.6" fill="#2e8b57"/>
<rect x="335.75" y="761.5" width="8.6" height="22" fill="#87cefa"/>
<rect x="335.75" y="758.4" width="8.6" height="3.1" fill="#f0e68c"/>
<rect x="347.45" y="800" width="8.6" height="15.8" fill="#666666"/>
<rect x="347.45" y="781.5" width="8.6" height="18.5" fill="#2e8b57"/>
<rect x="347.45" y="755.2" width="8.6" height="26.3" fill="#87cefa"/>
<rect x="347.45" y="751.3" width="8.6" height="3.9" fill="#f0e68c"/>
<rect x="359.15" y="804.1" width="8.6" height="11.7" fill="#666666"/>
<rect x="359.15" y="793.2" width="8.6" height="10.9" fill="#87cefa"/>
<rect x="359.15" y="782.1" width="8.6" height="11.1" fill="#f0e68c"/>
<rect x="359.15" y="780.2" width="8.6" height="1.9" fill="#00008b"/>
<rect x="370.85" y="810.6" width="8.6" height="5.2" fill="#666666"/>
<rect x="370.85" y="806.1" width="8.6" height="4.5" fill="#2e8b57"/>
<rect x="370.85" y="801.2" width="8.6" height="4.9" fill="#87cefa"/>
<rect x="370.85" y="797.9" width="8.6" height="3.3" fill="#f0e68c"/>
<rect x="382.55" y="810.9" width="8.6" height="4.9" fill="#666666"/>
<rect x="382.55" y="809.4" width="8.6" height="1.5" fill="#2e8b57"/>
<rect x="394.25" y="807" width="8.6" height="8.8" fill="#666666"/>
<rect x="394.25" y="806.1" width="8.6" height="0.9" fill="#87cefa"/>
<rect x="394.25" y="804.1" width="8.6" height="2" fill="#f0e68c"/>
<rect x="405.95" y="808.6" width="8.6" height="7.2" fill="#666666"/>
<rect x="405.95" y="806.8" width="8.6" height="1.8" fill="#f0e68c"/>
<rect x="417.65" y="811.7" width="8.6" height="4.1" fill="#666666"/>
<rect x="417.65" y="811" width="8.6" height="0.7" fill="#2e8b57"/>
<rect x="417.65" y="809.1" width="8.6" height="1.9" fill="#87cefa"/>
<rect x="417.65" y="799.1" width="8.6" height="10" fill="#f0e68c"/>
<rect x="429.35" y="811.1" width="8.6" height="4.7" fill="#666666"/>
<rect x="429.35" y="810.2" width="8.6" height="0.9" fill="#2e8b57"/>
<rect x="429.35" y="809.8" width="8.6" height="0.4" fill="#87cefa"/>
<rect x="429.35" y="805.2" width="8.6" height="4.6" fill="#f0e68c"/>
<rect x="429.35" y="804" width="8.6" height="1.2" fill="#00008b"/>
<rect x="441.05" y="717.9" width="8.6" height="97.9" fill="#666666"/>
<rect x="441.05" y="701.7" width="8.6" height="16.2" fill="#2e8b57"/>
<rect x="441.05" y="692.1" width="8.6" height="9.6" fill="#87cefa"/>
<rect x="441.05" y="673" width="8.6" height="19.1" fill="#f0e68c"/>
<rect x="441.05" y="670.1" width="8.6" height="2.9" fill="#00008b"/>
<rect x="452.75" y="814.8" width="8.6" height="1" fill="#666666"/>
<rect x="452.75" y="813.9" width="8.6" height="0.9" fill="#87cefa"/>
<rect x="452.75" y="812.7" width="8.6" height="1.2" fill="#f0e68c"/>
<rect x="464.44" y="804.4" width="8.6" height="11.4" fill="#666666"/>
<rect x="464.44" y="802.5" width="8.6" height="1.9" fill="#2e8b57"/>
<rect x="464.44" y="797" width="8.6" height="5.5" fill="#87cefa"/>
<rect x="464.44" y="793.1" width="8.6" height="3.9" fill="#f0e68c"/>
<rect x="476.14" y="811.1" width="8.6" height="4.7" fill="#666666"/>
<rect x="476.14" y="808.5" width="8.6" height="2.6" fill="#2e8b57"/>
<rect x="476.14" y="806" width="8.6" height="2.5" fill="#f0e68c"/>
<rect x="487.84" y="807.8" width="8.6" height="8" fill="#666666"/>
<rect x="487.84" y="807.2" width="8.6" height="0.6" fill="#2e8b57"/>
<rect x="487.84" y="806" width="8.6" height="1.2" fill="#87cefa"/>
<rect x="487.84" y="804" width="8.6" height="2" fill="#f0e68c"/>
<rect x="499.54" y="815" width="8.6" height="0.8" fill="#666666"/>
<rect x="499.54" y="813.8" width="8.6" height="1.2" fill="#2e8b57"/>
<rect x="499.54" y="813.1" width="8.6" height="0.7" fill="#87cefa"/>
<rect x="499.54" y="811.9" width="8.6" height="1.2" fill="#f0e68c"/>
<rect x="511.24" y="814.8" width="8.6" height="1" fill="#666666"/>
<rect x="511.24" y="813.3" width="8.6" height="1.5" fill="#f0e68c"/>
<rect x="522.94" y="806.4" width="8.6" height="9.4" fill="#666666"/>
<rect x="522.94" y="805" width="8.6" height="1.4" fill="#2e8b57"/>
<rect x="522.94" y="801.9" width="8.6" height="3.1" fill="#f0e68c"/>
<rect x="534.64" y="811.7" width="8.6" height="4.1" fill="#666666"/>
<rect x="534.64" y="810.9" width="8.6" height="0.8" fill="#2e8b57"/>
<rect x="534.64" y="808.8" width="8.6" height="2.1" fill="#f0e68c"/>
<rect x="546.34" y="802.7" width="8.6" height="13.1" fill="#666666"/>
<rect x="546.34" y="797.9" width="8.6" height="4.8" fill="#2e8b57"/>
<rect x="546.34" y="786.8" width="8.6" height="11.1" fill="#87cefa"/>
<rect x="546.34" y="785.3" width="8.6" height="1.5" fill="#f0e68c"/>
<rect x="558.04" y="813.9" width="8.6" height="1.9" fill="#666666"/>
<rect x="558.04" y="813" width="8.6" height="0.9" fill="#2e8b57"/>
<rect x="558.04" y="811.2" width="8.6" height="1.8" fill="#f0e68c"/>
<rect x="569.74" y="811.7" width="8.6" height="4.1" fill="#666666"/>
<rect x="569.74" y="810.9" width="8.6" height="0.8" fill="#2e8b57"/>
<rect x="569.74" y="809.1" width="8.6" height="1.8" fill="#87cefa"/>
<rect x="581.43" y="812.6" width="8.6" height="3.2" fill="#666666"/>
<rect x="581.43" y="811.8" width="8.6" height="0.8" fill="#2e8b57"/>
<rect x="581.43" y="810" width="8.6" height="1.8" fill="#87cefa"/>
<rect x="593.13" y="809.1" width="8.6" height="6.7" fill="#666666"/>
<rect x="593.13" y="808.5" width="8.6" height="0.6" fill="#2e8b57"/>
<rect x="593.13" y="806.6" width="8.6" height="1.9" fill="#87cefa"/>
<rect x="593.13" y="804.6" width="8.6" height="2" fill="#f0e68c"/>
<rect x="604.83" y="811.1" width="8.6" height="4.7" fill="#666666"/>
<rect x="604.83" y="809.1" width="8.6" height="2" fill="#f0e68c"/>
<rect x="616.53" y="815.3" width="8.6" height="0.5" fill="#666666"/>
<rect x="616.53" y="814.1" width="8.6" height="1.2" fill="#2e8b57"/>
<rect x="628.23" y="814.3" width="8.6" height="1.5" fill="#666666"/>
<rect x="628.23" y="812.9" width="8.6" height="1.4" fill="#2e8b57"/>
<rect x="628.23" y="812.1" width="8.6" height="0.8" fill="#f0e68c"/>
<rect x="639.93" y="812.1" width="8.6" height="3.7" fill="#666666"/>
<rect x="651.63" y="812.9" width="8.6" height="2.9" fill="#666666"/>
<rect x="651.63" y="811.1" width="8.6" height="1.8" fill="#2e8b57"/>
<rect x="651.63" y="807.3" width="8.6" height="3.8" fill="#f0e68c"/>
<rect x="663.33" y="811.7" width="8.6" height="4.1" fill="#666666"/>
<rect x="663.33" y="810.2" width="8.6" height="1.5" fill="#2e8b57"/>
<rect x="663.33" y="809.4" width="8.6" height="0.8" fill="#f0e68c"/>
<rect x="675.03" y="815.3" width="8.6" height="0.5" fill="#666666"/>
<rect x="675.03" y="814.7" width="8.6" height="0.6" fill="#2e8b57"/>
<rect x="675.03" y="812.7" width="8.6" height="2" fill="#f0e68c"/>
<rect x="686.73" y="808.8" width="8.6" height="7" fill="#666666"/>
<rect x="686.73" y="807.4" width="8.6" height="1.4" fill="#f0e68c"/>
<rect x="698.42" y="813.9" width="8.6" height="1.9" fill="#666666"/>
<rect x="698.42" y="811.2" width="8.6" height="2.7" fill="#f0e68c"/>
<rect x="710.12" y="810" width="8.6" height="5.8" fill="#666666"/>
<rect x="710.12" y="808.2" width="8.6" height="1.8" fill="#2e8b57"/>
<rect x="710.12" y="807.4" width="8.6" height="0.8" fill="#f0e68c"/>
<rect x="721.82" y="815.3" width="8.6" height="0.5" fill="#666666"/>
<rect x="721.82" y="813.9" width="8.6" height="1.4" fill="#2e8b57"/>
<rect x="721.82" y="812.7" width="8.6" height="1.2" fill="#f0e68c"/>
<rect x="733.52" y="813.1" width="8.6" height="2.7" fill="#666666"/>
<rect x="745.22" y="815.2" width="8.6" height="0.6" fill="#666666"/>
<rect x="745.22" y="814" width="8.6" height="1.2" fill="#f0e68c"/>
<rect x="756.92" y="810.8" width="8.6" height="5" fill="#666666"/>
<rect x="756.92" y="809.4" width="8.6" height="1.4" fill="#2e8b57"/>
<rect x="756.92" y="802.8" width="8.6" height="6.6" fill="#87cefa"/>
<rect x="756.92" y="801.4" width="8.6" height="1.4" fill="#f0e68c"/>
<rect x="768.62" y="807.5" width="8.6" height="8.3" fill="#666666"/>
<rect x="768.62" y="806.7" width="8.6" height="0.8" fill="#87cefa"/>
<rect x="768.62" y="805.5" width="8.6" height="1.2" fill="#f0e68c"/>
<rect x="780.32" y="815" width="8.6" height="0.8" fill="#666666"/>
<rect x="780.32" y="813.1" width="8.6" height="1.9" fill="#87cefa"/>
<rect x="792.02" y="814" width="8.6" height="1.8" fill="#666666"/>
<rect x="792.02" y="813.2" width="8.6" height="0.8" fill="#2e8b57"/>
<rect x="792.02" y="812.3" width="8.6" height="0.9" fill="#87cefa"/>
<rect x="792.02" y="811.1" width="8.6" height="1.2" fill="#f0e68c"/>
<rect x="803.71" y="812.2" width="8.6" height="3.6" fill="#666666"/>
<rect x="803.71" y="811" width="8.6" height="1.2" fill="#f0e68c"/>
<rect x="815.41" y="812.9" width="8.6" height="2.9" fill="#666666"/>
<rect x="815.41" y="812" width="8.6" height="0.9" fill="#2e8b57"/>
<rect x="815.41" y="811.3" width="8.6" height="0.7" fill="#87cefa"/>
<rect x="815.41" y="810.4" width="8.6" height="0.9" fill="#f0e68c"/>
<rect x="827.11" y="813.1" width="8.6" height="2.7" fill="#666666"/>
<rect x="827.11" y="812.2" width="8.6" height="0.9" fill="#2e8b57"/>
<rect x="827.11" y="809.4" width="8.6" height="2.8" fill="#87cefa"/>
<rect x="827.11" y="808.5" width="8.6" height="0.9" fill="#f0e68c"/>
<rect x="827.11" y="805.6" width="8.6" height="2.9" fill="#00008b"/>
<rect x="838.81" y="812.9" width="8.6" height="2.9" fill="#666666"/>
<rect x="838.81" y="812" width="8.6" height="0.9" fill="#2e8b57"/>
<rect x="838.81" y="809.4" width="8.6" height="2.6" fill="#87cefa"/>
<rect x="838.81" y="807.6" width="8.6" height="1.8" fill="#f0e68c"/>
<rect x="850.51" y="811.4" width="8.6" height="4.4" fill="#666666"/>
<rect x="850.51" y="808.8" width="8.6" height="2.6" fill="#2e8b57"/>
<rect x="850.51" y="806.3" width="8.6" height="2.5" fill="#87cefa"/>
<rect x="850.51" y="804.9" width="8.6" height="1.4" fill="#00008b"/>
<rect x="862.21" y="813.4" width="8.6" height="2.4" fill="#666666"/>
<rect x="862.21" y="812.8" width="8.6" height="0.6" fill="#2e8b57"/>
<rect x="862.21" y="811.7" width="8.6" height="1.1" fill="#f0e68c"/>
<rect x="873.91" y="804.7" width="8.6" height="11.1" fill="#666666"/>
<rect x="873.91" y="802.8" width="8.6" height="1.9" fill="#2e8b57"/>
<rect x="873.91" y="802.2" width="8.6" height="0.6" fill="#87cefa"/>
<rect x="873.91" y="800.6" width="8.6" height="1.6" fill="#f0e68c"/>
<rect x="885.61" y="814.1" width="8.6" height="1.7" fill="#666666"/>
<rect x="885.61" y="813.2" width="8.6" height="0.9" fill="#2e8b57"/>
<rect x="885.61" y="811.7" width="8.6" height="1.5" fill="#f0e68c"/>
<rect x="897.31" y="813.4" width="8.6" height="2.4" fill="#666666"/>
<rect x="897.31" y="812.3" width="8.6" height="1.1" fill="#87cefa"/>
<rect x="897.31" y="808.2" width="8.6" height="4.1" fill="#f0e68c"/>
<rect x="909.01" y="814.3" width="8.6" height="1.5" fill="#666666"/>
<rect x="909.01" y="813.4" width="8.6" height="0.9" fill="#87cefa"/>
<rect x="909.01" y="812.3" width="8.6" height="1.1" fill="#f0e68c"/>
<rect x="920.7" y="813.1" width="8.6" height="2.7" fill="#666666"/>
<rect x="932.4" y="809" width="8.6" height="6.8" fill="#666666"/>
<rect x="932.4" y="807.8" width="8.6" height="1.2" fill="#2e8b57"/>
<rect x="932.4" y="806.4" width="8.6" height="1.4" fill="#f0e68c"/>
<rect x="944.1" y="813.3" width="8.6" height="2.5" fill="#666666"/>
<rect x="944.1" y="811.3" width="8.6" height="2" fill="#f0e68c"/>
<rect x="955.8" y="813.3" width="8.6" height="2.5" fill="#666666"/>
<rect x="955.8" y="812.7" width="8.6" height="0.6" fill="#2e8b57"/>
<rect x="955.8" y="810.3" width="8.6" height="2.4" fill="#f0e68c"/>
<rect x="967.5" y="809.8" width="8.6" height="6" fill="#666666"/>
<rect x="967.5" y="808.3" width="8.6" height="1.5" fill="#87cefa"/>
<rect x="967.5" y="806.3" width="8.6" height="2" fill="#f0e68c"/>
<rect x="979.2" y="812.1" width="8.6" height="3.7" fill="#666666"/>
<rect x="979.2" y="810.7" width="8.6" height="1.4" fill="#2e8b57"/>
<rect x="979.2" y="808.6" width="8.6" height="2.1" fill="#87cefa"/>
<rect x="979.2" y="805.4" width="8.6" height="3.2" fill="#f0e68c"/>
<rect x="990.9" y="814.9" width="8.6" height="0.9" fill="#666666"/>
<rect x="990.9" y="809.2" width="8.6" height="5.7" fill="#2e8b57"/>
<rect x="990.9" y="808.3" width="8.6" height="0.9" fill="#f0e68c"/>
<rect x="1002.6" y="814.2" width="8.6" height="1.6" fill="#666666"/>
<rect x="1002.6" y="813.3" width="8.6" height="0.9" fill="#87cefa"/>
<rect x="1002.6" y="812.2" width="8.6" height="1.1" fill="#f0e68c"/>
<rect x="1014.3" y="814.2" width="8.6" height="1.6" fill="#666666"/>
<rect x="1014.3" y="811" width="8.6" height="3.2" fill="#2e8b57"/>
<rect x="1014.3" y="806.2" width="8.6" height="4.8" fill="#f0e68c"/>
<rect x="1026" y="814.2" width="8.6" height="1.6" fill="#666666"/>
<rect x="1037.69" y="810.1" width="8.6" height="5.7" fill="#666666"/>
<rect x="1037.69" y="808.3" width="8.6" height="1.8" fill="#2e8b57"/>
<rect x="1037.69" y="803.9" width="8.6" height="4.4" fill="#87cefa"/>
<rect x="1037.69" y="802" width="8.6" height="1.9" fill="#f0e68c"/>
<rect x="1049.39" y="810.1" width="8.6" height="5.7" fill="#666666"/>
<rect x="1049.39" y="805.2" width="8.6" height="4.9" fill="#2e8b57"/>
<rect x="1049.39" y="796" width="8.6" height="9.2" fill="#87cefa"/>
<rect x="1049.39" y="793.3" width="8.6" height="2.7" fill="#f0e68c"/>
<rect x="1061.09" y="811.3" width="8.6" height="4.5" fill="#666666"/>
<rect x="1061.09" y="807.4" width="8.6" height="3.9" fill="#2e8b57"/>
<rect x="1061.09" y="803" width="8.6" height="4.4" fill="#87cefa"/>
<rect x="1061.09" y="799.2" width="8.6" height="3.8" fill="#f0e68c"/>
<rect x="1072.79" y="810.4" width="8.6" height="5.4" fill="#666666"/>
<rect x="1072.79" y="808.5" width="8.6" height="1.9" fill="#2e8b57"/>
<rect x="1072.79" y="805.3" width="8.6" height="3.2" fill="#87cefa"/>
<rect x="1072.79" y="804.1" width="8.6" height="1.2" fill="#f0e68c"/>
<rect x="1084.49" y="813" width="8.6" height="2.8" fill="#666666"/>
<rect x="1084.49" y="811.8" width="8.6" height="1.2" fill="#2e8b57"/>
<rect x="1084.49" y="810.9" width="8.6" height="0.9" fill="#f0e68c"/>
<rect x="1096.19" y="812.8" width="8.6" height="3" fill="#666666"/>
<rect x="1096.19" y="811.2" width="8.6" height="1.6" fill="#2e8b57"/>
<rect x="1096.19" y="810.4" width="8.6" height="0.8" fill="#f0e68c"/>
<rect x="1107.89" y="812.2" width="8.6" height="3.6" fill="#666666"/>
<rect x="1107.89" y="811" width="8.6" height="1.2" fill="#f0e68c"/>
<rect x="1119.59" y="811" width="8.6" height="4.8" fill="#666666"/>
<rect x="1119.59" y="810.3" width="8.6" height="0.7" fill="#2e8b57"/>
<rect x="1119.59" y="809.8" width="8.6" height="0.5" fill="#f0e68c"/>
<rect x="1131.29" y="815.2" width="8.6" height="0.6" fill="#666666"/>
<rect x="1131.29" y="812.8" width="8.6" height="2.4" fill="#f0e68c"/>
<rect x="1142.99" y="812.4" width="8.6" height="3.4" fill="#666666"/>
<rect x="1142.99" y="811.9" width="8.6" height="0.5" fill="#2e8b57"/>
<rect x="1142.99" y="811" width="8.6" height="0.9" fill="#f0e68c"/>
<rect x="1154.68" y="813.1" width="8.6" height="2.7" fill="#666666"/>
<rect x="1154.68" y="812.1" width="8.6" height="1" fill="#2e8b57"/>
<rect x="1166.38" y="814.8" width="8.6" height="1" fill="#666666"/>
<rect x="1166.38" y="813.2" width="8.6" height="1.6" fill="#87cefa"/>
<rect x="1166.38" y="811.4" width="8.6" height="1.8" fill="#f0e68c"/>
<rect x="1178.08" y="814.6" width="8.6" height="1.2" fill="#666666"/>
<rect x="1178.08" y="813.1" width="8.6" height="1.5" fill="#2e8b57"/>
<rect x="1189.78" y="815.1" width="8.6" height="0.7" fill="#666666"/>
<rect x="1189.78" y="813.2" width="8.6" height="1.9" fill="#2e8b57"/>
<rect x="1189.78" y="811.4" width="8.6" height="1.8" fill="#87cefa"/>
<rect x="1201.48" y="812.4" width="8.6" height="3.4" fill="#666666"/>
<rect x="1201.48" y="810.2" width="8.6" height="2.2" fill="#87cefa"/>
<rect x="1213.18" y="815.1" width="8.6" height="0.7" fill="#666666"/>
<rect x="1213.18" y="814.1" width="8.6" height="1" fill="#2e8b57"/>
<rect x="1224.88" y="813.6" width="8.6" height="2.2" fill="#666666"/>
<rect x="1236.58" y="814.8" width="8.6" height="1" fill="#87cefa"/>
<rect x="1248.28" y="813.1" width="8.6" height="2.7" fill="#666666"/>
<rect x="1248.28" y="812.1" width="8.6" height="1" fill="#87cefa"/>
<rect x="1248.28" y="808.7" width="8.6" height="3.4" fill="#f0e68c"/>
<rect x="1259.98" y="815.2" width="8.6" height="0.6" fill="#666666"/>
<rect x="1271.67" y="814" width="8.6" height="1.8" fill="#666666"/>
<rect x="1271.67" y="812.8" width="8.6" height="1.2" fill="#f0e68c"/>
<rect x="1283.37" y="813.6" width="8.6" height="2.2" fill="#666666"/>
<rect x="1295.07" y="810.4" width="8.6" height="5.4" fill="#666666"/>
<rect x="1295.07" y="809.9" width="8.6" height="0.5" fill="#2e8b57"/>
<rect x="1295.07" y="809" width="8.6" height="0.9" fill="#f0e68c"/>
<rect x="1318.47" y="811.8" width="8.6" height="4" fill="#666666"/>
<rect x="1318.47" y="808" width="8.6" height="3.8" fill="#2e8b57"/>
<rect x="1318.47" y="804" width="8.6" height="4" fill="#87cefa"/>
<rect x="1318.47" y="794.4" width="8.6" height="9.6" fill="#f0e68c"/>
<rect x="1341.87" y="814.3" width="8.6" height="1.5" fill="#666666"/>
<text x="139.6" y="826.65" font-size="29.2" text-anchor="end">0</text>
<text x="139.6" y="792.2" font-size="29.2" text-anchor="end">50</text>
<text x="139.6" y="758.4" font-size="29.2" text-anchor="end">100</text>
<text x="139.6" y="724.45" font-size="29.2" text-anchor="end">150</text>
<text x="139.6" y="690.35" font-size="29.2" text-anchor="end">200</text>
<text x="139.6" y="655.85" font-size="29.2" text-anchor="end">250</text>
<text transform="translate(36.8 731) rotate(-90)" font-size="29" text-anchor="middle">Structural</text>
<text transform="translate(71.5 731) rotate(-90)" font-size="29" text-anchor="middle">variants</text>
</g>
<rect x="1414.3" y="662.4" width="15" height="21" fill="#00008b" stroke="#111" stroke-width="1.25"/>
<text x="1441.6" y="681.5" font-size="24.85" text-anchor="start">Intrachromosomal</text>
<rect x="1414.3" y="693" width="15" height="21" fill="#f0e68c" stroke="#111" stroke-width="1.25"/>
<text x="1441.6" y="712" font-size="24.85" text-anchor="start">Translocation</text>
<rect x="1414.3" y="723.6" width="15" height="21" fill="#87cefa" stroke="#111" stroke-width="1.25"/>
<text x="1441.6" y="742.5" font-size="24.85" text-anchor="start">Inversion</text>
<rect x="1414.3" y="754.2" width="15" height="21" fill="#2e8b57" stroke="#111" stroke-width="1.25"/>
<text x="1441.6" y="773" font-size="24.85" text-anchor="start">Duplication</text>
<rect x="1414.3" y="784.8" width="15" height="21" fill="#666666" stroke="#111" stroke-width="1.25"/>
<text x="1441.6" y="803.5" font-size="24.85" text-anchor="start">Deletion</text>
<g id="panel-c">
<line x1="158.55" y1="900.2" x2="158.55" y2="1138.45" stroke="#000" stroke-width="1.1"/>
<line x1="1363.55" y1="900.2" x2="1363.55" y2="1138.45" stroke="#000" stroke-width="1.1"/>
<line x1="153" y1="900.2" x2="1369.1" y2="900.2" stroke="#000" stroke-width="1.1"/>
<line x1="153" y1="1138.45" x2="1369.1" y2="1138.45" stroke="#000" stroke-width="1.1"/>
<line x1="153" y1="1090.8" x2="158.55" y2="1090.8" stroke="#000" stroke-width="1.1"/>
<line x1="1363.55" y1="1090.8" x2="1369.1" y2="1090.8" stroke="#000" stroke-width="1.1"/>
<line x1="153" y1="1043.15" x2="158.55" y2="1043.15" stroke="#000" stroke-width="1.1"/>
<line x1="1363.55" y1="1043.15" x2="1369.1" y2="1043.15" stroke="#000" stroke-width="1.1"/>
<line x1="153" y1="995.5" x2="158.55" y2="995.5" stroke="#000" stroke-width="1.1"/>
<line x1="1363.55" y1="995.5" x2="1369.1" y2="995.5" stroke="#000" stroke-width="1.1"/>
<line x1="153" y1="947.85" x2="158.55" y2="947.85" stroke="#000" stroke-width="1.1"/>
<line x1="1363.55" y1="947.85" x2="1369.1" y2="947.85" stroke="#000" stroke-width="1.1"/>
<rect x="160.27" y="985.28" width="8.6" height="152.77" fill="#fbb4d9"/>
<rect x="160.27" y="928.32" width="8.6" height="56.96" fill="#f768b1"/>
<rect x="160.27" y="926.32" width="8.6" height="2" fill="#b3b3b3"/>
<rect x="171.97" y="993.08" width="8.6" height="144.97" fill="#fbb4d9"/>
<rect x="171.97" y="943.74" width="8.6" height="49.34" fill="#f768b1"/>
<rect x="171.97" y="928.68" width="8.6" height="15.06" fill="#f0f0f0"/>
<rect x="183.67" y="1067.09" width="8.6" height="70.96" fill="#fbb4d9"/>
<rect x="183.67" y="1033.53" width="8.6" height="33.56" fill="#f768b1"/>
<rect x="183.67" y="974.03" width="8.6" height="59.5" fill="#f0f0f0"/>
<rect x="195.37" y="1023.19" width="8.6" height="114.86" fill="#fbb4d9"/>
<rect x="195.37" y="969.5" width="8.6" height="53.7" fill="#f768b1"/>
<rect x="195.37" y="924.15" width="8.6" height="45.35" fill="#f0f0f0"/>
<rect x="207.07" y="934.67" width="8.6" height="203.38" fill="#2e8b57"/>
<rect x="218.77" y="953.17" width="8.6" height="184.88" fill="#2e8b57"/>
<rect x="218.77" y="935.94" width="8.6" height="17.23" fill="#f0e68c"/>
<rect x="230.46" y="984.01" width="8.6" height="154.04" fill="#fbb4d9"/>
<rect x="230.46" y="921.97" width="8.6" height="62.04" fill="#f768b1"/>
<rect x="242.16" y="1081.97" width="8.6" height="56.08" fill="#fbb4d9"/>
<rect x="242.16" y="1003.6" width="8.6" height="78.37" fill="#f768b1"/>
<rect x="242.16" y="998.16" width="8.6" height="5.44" fill="#2e8b57"/>
<rect x="242.16" y="949" width="8.6" height="49.16" fill="#f0f0f0"/>
<rect x="253.86" y="1109.18" width="8.6" height="28.87" fill="#2e8b57"/>
<rect x="253.86" y="1095.57" width="8.6" height="13.61" fill="#f0f0f0"/>
<rect x="253.86" y="1051.49" width="8.6" height="44.08" fill="#1e90ff"/>
<rect x="253.86" y="950.45" width="8.6" height="101.04" fill="#87cefa"/>
<rect x="253.86" y="929.22" width="8.6" height="21.22" fill="#f0e68c"/>
<rect x="253.86" y="915.08" width="8.6" height="14.15" fill="#b3b3b3"/>
<rect x="265.56" y="1077.07" width="8.6" height="60.98" fill="#fbb4d9"/>
<rect x="265.56" y="1026.27" width="8.6" height="50.79" fill="#f768b1"/>
<rect x="265.56" y="1018.11" width="8.6" height="8.16" fill="#2e8b57"/>
<rect x="265.56" y="957.7" width="8.6" height="60.41" fill="#f0f0f0"/>
<rect x="265.56" y="954.08" width="8.6" height="3.63" fill="#ffff00"/>
<rect x="277.26" y="1124.05" width="8.6" height="14" fill="#2e8b57"/>
<rect x="277.26" y="1057.11" width="8.6" height="66.94" fill="#32cd32"/>
<rect x="277.26" y="1044.23" width="8.6" height="12.88" fill="#f0f0f0"/>
<rect x="277.26" y="1019.2" width="8.6" height="25.03" fill="#1e90ff"/>
<rect x="277.26" y="920.15" width="8.6" height="99.05" fill="#ffff00"/>
<rect x="288.96" y="985.28" width="8.6" height="152.77" fill="#fbb4d9"/>
<rect x="288.96" y="933.76" width="8.6" height="51.52" fill="#f768b1"/>
<rect x="288.96" y="929.22" width="8.6" height="4.54" fill="#2e8b57"/>
<rect x="288.96" y="921.06" width="8.6" height="8.16" fill="#666666"/>
<rect x="288.96" y="910.54" width="8.6" height="10.52" fill="#b3b3b3"/>
<rect x="300.66" y="1120.06" width="8.6" height="17.99" fill="#2e8b57"/>
<rect x="300.66" y="1079.24" width="8.6" height="40.82" fill="#1e90ff"/>
<rect x="300.66" y="961.7" width="8.6" height="117.55" fill="#87cefa"/>
<rect x="300.66" y="948.09" width="8.6" height="13.61" fill="#666666"/>
<rect x="300.66" y="928.32" width="8.6" height="19.77" fill="#f0e68c"/>
<rect x="312.36" y="1114.07" width="8.6" height="23.98" fill="#2e8b57"/>
<rect x="312.36" y="999.61" width="8.6" height="114.46" fill="#00008b"/>
<rect x="312.36" y="988" width="8.6" height="11.61" fill="#666666"/>
<rect x="312.36" y="974.21" width="8.6" height="13.79" fill="#b3b3b3"/>
<rect x="324.06" y="1122.24" width="8.6" height="15.81" fill="#2e8b57"/>
<rect x="324.06" y="936.48" width="8.6" height="185.76" fill="#32cd32"/>
<rect x="335.75" y="1109.18" width="8.6" height="28.87" fill="#2e8b57"/>
<rect x="335.75" y="952.44" width="8.6" height="156.73" fill="#32cd32"/>
<rect x="335.75" y="923.78" width="8.6" height="28.66" fill="#1e90ff"/>
<rect x="347.45" y="1107.36" width="8.6" height="30.69" fill="#2e8b57"/>
<rect x="347.45" y="1019.2" width="8.6" height="88.16" fill="#32cd32"/>
<rect x="347.45" y="994.89" width="8.6" height="24.31" fill="#1e90ff"/>
<rect x="347.45" y="974.21" width="8.6" height="20.68" fill="#f0e68c"/>
<rect x="359.15" y="1114.07" width="8.6" height="23.98" fill="#2e8b57"/>
<rect x="359.15" y="975.12" width="8.6" height="138.95" fill="#32cd32"/>
<rect x="359.15" y="967.86" width="8.6" height="7.26" fill="#ffff00"/>
<rect x="370.85" y="1116.79" width="8.6" height="21.26" fill="#2e8b57"/>
<rect x="370.85" y="975.84" width="8.6" height="140.95" fill="#32cd32"/>
<rect x="382.55" y="1119.15" width="8.6" height="18.9" fill="#2e8b57"/>
<rect x="382.55" y="957.7" width="8.6" height="161.45" fill="#32cd32"/>
<rect x="382.55" y="911.08" width="8.6" height="46.62" fill="#1e90ff"/>
<rect x="394.25" y="1117.88" width="8.6" height="20.17" fill="#2e8b57"/>
<rect x="394.25" y="1043.33" width="8.6" height="74.56" fill="#1e90ff"/>
<rect x="394.25" y="1021.74" width="8.6" height="21.59" fill="#666666"/>
<rect x="394.25" y="1007.05" width="8.6" height="14.69" fill="#f0e68c"/>
<rect x="394.25" y="985.46" width="8.6" height="21.59" fill="#b3b3b3"/>
<rect x="405.95" y="1109.18" width="8.6" height="28.87" fill="#2e8b57"/>
<rect x="405.95" y="959.52" width="8.6" height="149.66" fill="#32cd32"/>
<rect x="405.95" y="947.18" width="8.6" height="12.34" fill="#ffff00"/>
<rect x="417.65" y="1097.93" width="8.6" height="40.12" fill="#2e8b57"/>
<rect x="417.65" y="1026.09" width="8.6" height="71.84" fill="#00008b"/>
<rect x="417.65" y="1001.42" width="8.6" height="24.67" fill="#1e90ff"/>
<rect x="417.65" y="975.84" width="8.6" height="25.58" fill="#666666"/>
<rect x="417.65" y="961.51" width="8.6" height="14.33" fill="#f0e68c"/>
<rect x="417.65" y="946.28" width="8.6" height="15.24" fill="#b3b3b3"/>
<rect x="429.35" y="1106.82" width="8.6" height="31.23" fill="#2e8b57"/>
<rect x="429.35" y="946.82" width="8.6" height="160" fill="#32cd32"/>
<rect x="441.05" y="1108.27" width="8.6" height="29.78" fill="#2e8b57"/>
<rect x="441.05" y="942.29" width="8.6" height="165.98" fill="#32cd32"/>
<rect x="452.75" y="1107" width="8.6" height="31.05" fill="#2e8b57"/>
<rect x="452.75" y="963.51" width="8.6" height="143.49" fill="#32cd32"/>
<rect x="452.75" y="922.33" width="8.6" height="41.18" fill="#1e90ff"/>
<rect x="464.44" y="1111.53" width="8.6" height="26.52" fill="#2e8b57"/>
<rect x="464.44" y="970.04" width="8.6" height="141.49" fill="#32cd32"/>
<rect x="464.44" y="915.08" width="8.6" height="54.96" fill="#1e90ff"/>
<rect x="476.14" y="1102.46" width="8.6" height="35.59" fill="#2e8b57"/>
<rect x="476.14" y="1054.21" width="8.6" height="48.25" fill="#00008b"/>
<rect x="476.14" y="1006.86" width="8.6" height="47.35" fill="#1e90ff"/>
<rect x="476.14" y="987.27" width="8.6" height="19.59" fill="#666666"/>
<rect x="476.14" y="961.88" width="8.6" height="25.4" fill="#f0e68c"/>
<rect x="476.14" y="930.13" width="8.6" height="31.75" fill="#b3b3b3"/>
<rect x="487.84" y="1110.08" width="8.6" height="27.97" fill="#2e8b57"/>
<rect x="487.84" y="981.11" width="8.6" height="128.98" fill="#32cd32"/>
<rect x="487.84" y="965.14" width="8.6" height="15.96" fill="#f0f0f0"/>
<rect x="487.84" y="923.6" width="8.6" height="41.54" fill="#1e90ff"/>
<rect x="487.84" y="906" width="8.6" height="17.6" fill="#f0e68c"/>
<rect x="499.54" y="1105.55" width="8.6" height="32.5" fill="#2e8b57"/>
<rect x="499.54" y="964.05" width="8.6" height="141.49" fill="#32cd32"/>
<rect x="499.54" y="940.11" width="8.6" height="23.95" fill="#1e90ff"/>
<rect x="499.54" y="933.22" width="8.6" height="6.89" fill="#ffff00"/>
<rect x="511.24" y="1114.07" width="8.6" height="23.98" fill="#2e8b57"/>
<rect x="511.24" y="949" width="8.6" height="165.08" fill="#32cd32"/>
<rect x="511.24" y="927.23" width="8.6" height="21.77" fill="#1e90ff"/>
<rect x="522.94" y="1105" width="8.6" height="33.05" fill="#2e8b57"/>
<rect x="522.94" y="944.1" width="8.6" height="160.9" fill="#32cd32"/>
<rect x="522.94" y="915.98" width="8.6" height="28.12" fill="#1e90ff"/>
<rect x="534.64" y="1105.55" width="8.6" height="32.5" fill="#2e8b57"/>
<rect x="534.64" y="949.36" width="8.6" height="156.19" fill="#32cd32"/>
<rect x="534.64" y="925.96" width="8.6" height="23.4" fill="#1e90ff"/>
<rect x="534.64" y="917.8" width="8.6" height="8.16" fill="#ffff00"/>
<rect x="546.34" y="1104.1" width="8.6" height="33.95" fill="#2e8b57"/>
<rect x="546.34" y="925.96" width="8.6" height="178.14" fill="#32cd32"/>
<rect x="546.34" y="900.55" width="8.6" height="25.41" fill="#1e90ff"/>
<rect x="558.04" y="1093.21" width="8.6" height="44.84" fill="#2e8b57"/>
<rect x="558.04" y="976.75" width="8.6" height="116.46" fill="#87cefa"/>
<rect x="558.04" y="957.16" width="8.6" height="19.59" fill="#ffff00"/>
<rect x="558.04" y="925.05" width="8.6" height="32.11" fill="#b3b3b3"/>
<rect x="569.74" y="1105.55" width="8.6" height="32.5" fill="#2e8b57"/>
<rect x="569.74" y="1036.61" width="8.6" height="68.93" fill="#1e90ff"/>
<rect x="569.74" y="1004.14" width="8.6" height="32.47" fill="#666666"/>
<rect x="569.74" y="975.3" width="8.6" height="28.84" fill="#f0e68c"/>
<rect x="569.74" y="954.08" width="8.6" height="21.22" fill="#b3b3b3"/>
<rect x="581.43" y="1110.08" width="8.6" height="27.97" fill="#2e8b57"/>
<rect x="581.43" y="1037.34" width="8.6" height="72.74" fill="#1e90ff"/>
<rect x="581.43" y="1015.03" width="8.6" height="22.31" fill="#666666"/>
<rect x="581.43" y="1007.95" width="8.6" height="7.07" fill="#ffff00"/>
<rect x="581.43" y="970.4" width="8.6" height="37.55" fill="#f0e68c"/>
<rect x="593.13" y="1100.11" width="8.6" height="37.94" fill="#2e8b57"/>
<rect x="593.13" y="917.25" width="8.6" height="182.85" fill="#32cd32"/>
<rect x="604.83" y="1112.99" width="8.6" height="25.06" fill="#2e8b57"/>
<rect x="604.83" y="984.55" width="8.6" height="128.43" fill="#32cd32"/>
<rect x="604.83" y="928.68" width="8.6" height="55.87" fill="#00008b"/>
<rect x="616.53" y="1107.72" width="8.6" height="30.33" fill="#2e8b57"/>
<rect x="616.53" y="956.8" width="8.6" height="150.93" fill="#32cd32"/>
<rect x="616.53" y="922.33" width="8.6" height="34.47" fill="#1e90ff"/>
<rect x="616.53" y="912.9" width="8.6" height="9.43" fill="#ffff00"/>
<rect x="628.23" y="1111.35" width="8.6" height="26.7" fill="#2e8b57"/>
<rect x="628.23" y="1066" width="8.6" height="45.35" fill="#1e90ff"/>
<rect x="628.23" y="977.66" width="8.6" height="88.34" fill="#87cefa"/>
<rect x="628.23" y="965.87" width="8.6" height="11.79" fill="#666666"/>
<rect x="628.23" y="933.22" width="8.6" height="32.65" fill="#f0e68c"/>
<rect x="639.93" y="1109.18" width="8.6" height="28.87" fill="#2e8b57"/>
<rect x="639.93" y="961.15" width="8.6" height="148.02" fill="#32cd32"/>
<rect x="639.93" y="914.53" width="8.6" height="46.62" fill="#00008b"/>
<rect x="651.63" y="1115.34" width="8.6" height="22.71" fill="#2e8b57"/>
<rect x="651.63" y="993.08" width="8.6" height="122.27" fill="#32cd32"/>
<rect x="651.63" y="963.33" width="8.6" height="29.75" fill="#1e90ff"/>
<rect x="651.63" y="955.89" width="8.6" height="7.44" fill="#ffff00"/>
<rect x="651.63" y="934.49" width="8.6" height="21.41" fill="#f0e68c"/>
<rect x="663.33" y="1101.01" width="8.6" height="37.04" fill="#2e8b57"/>
<rect x="663.33" y="992.72" width="8.6" height="108.3" fill="#87cefa"/>
<rect x="663.33" y="962.24" width="8.6" height="30.48" fill="#b3b3b3"/>
<rect x="675.03" y="1102.28" width="8.6" height="35.77" fill="#2e8b57"/>
<rect x="675.03" y="1050.4" width="8.6" height="51.88" fill="#1e90ff"/>
<rect x="675.03" y="1029.36" width="8.6" height="21.04" fill="#666666"/>
<rect x="675.03" y="1007.95" width="8.6" height="21.41" fill="#f0e68c"/>
<rect x="675.03" y="976.39" width="8.6" height="31.56" fill="#b3b3b3"/>
<rect x="686.73" y="1108.27" width="8.6" height="29.78" fill="#2e8b57"/>
<rect x="686.73" y="907.82" width="8.6" height="200.45" fill="#32cd32"/>
<rect x="698.42" y="1121.51" width="8.6" height="16.54" fill="#2e8b57"/>
<rect x="698.42" y="949.54" width="8.6" height="171.97" fill="#32cd32"/>
<rect x="698.42" y="921.61" width="8.6" height="27.94" fill="#1e90ff"/>
<rect x="710.12" y="1109.18" width="8.6" height="28.87" fill="#2e8b57"/>
<rect x="710.12" y="947.18" width="8.6" height="161.99" fill="#32cd32"/>
<rect x="710.12" y="910" width="8.6" height="37.19" fill="#1e90ff"/>
<rect x="721.82" y="1104.28" width="8.6" height="33.77" fill="#2e8b57"/>
<rect x="721.82" y="1007.95" width="8.6" height="96.32" fill="#32cd32"/>
<rect x="721.82" y="978.02" width="8.6" height="29.93" fill="#1e90ff"/>
<rect x="721.82" y="956.25" width="8.6" height="21.77" fill="#666666"/>
<rect x="721.82" y="936.12" width="8.6" height="20.14" fill="#f0e68c"/>
<rect x="733.52" y="1115.16" width="8.6" height="22.89" fill="#2e8b57"/>
<rect x="733.52" y="922.33" width="8.6" height="192.83" fill="#32cd32"/>
<rect x="733.52" y="900.55" width="8.6" height="21.78" fill="#1e90ff"/>
<rect x="745.22" y="1116.98" width="8.6" height="21.07" fill="#2e8b57"/>
<rect x="745.22" y="955.53" width="8.6" height="161.45" fill="#32cd32"/>
<rect x="745.22" y="913.81" width="8.6" height="41.72" fill="#00008b"/>
<rect x="756.92" y="1104.28" width="8.6" height="33.77" fill="#2e8b57"/>
<rect x="756.92" y="1034.26" width="8.6" height="70.02" fill="#1e90ff"/>
<rect x="756.92" y="1000.7" width="8.6" height="33.56" fill="#666666"/>
<rect x="756.92" y="970.4" width="8.6" height="30.29" fill="#f0e68c"/>
<rect x="756.92" y="939.02" width="8.6" height="31.38" fill="#b3b3b3"/>
<rect x="768.62" y="1107.36" width="8.6" height="30.69" fill="#2e8b57"/>
<rect x="768.62" y="1069.81" width="8.6" height="37.55" fill="#1e90ff"/>
<rect x="768.62" y="1044.23" width="8.6" height="25.58" fill="#666666"/>
<rect x="768.62" y="1025.19" width="8.6" height="19.05" fill="#f0e68c"/>
<rect x="768.62" y="980.56" width="8.6" height="44.62" fill="#b3b3b3"/>
<rect x="780.32" y="1106.09" width="8.6" height="31.96" fill="#2e8b57"/>
<rect x="780.32" y="1036.61" width="8.6" height="69.48" fill="#1e90ff"/>
<rect x="780.32" y="1001.06" width="8.6" height="35.55" fill="#b3b3b3"/>
<rect x="792.02" y="1106.45" width="8.6" height="31.6" fill="#2e8b57"/>
<rect x="792.02" y="943.19" width="8.6" height="163.26" fill="#32cd32"/>
<rect x="803.71" y="1099.2" width="8.6" height="38.85" fill="#2e8b57"/>
<rect x="803.71" y="1036.98" width="8.6" height="62.22" fill="#1e90ff"/>
<rect x="803.71" y="1014.85" width="8.6" height="22.13" fill="#666666"/>
<rect x="803.71" y="993.62" width="8.6" height="21.22" fill="#f0e68c"/>
<rect x="803.71" y="960.79" width="8.6" height="32.83" fill="#b3b3b3"/>
<rect x="815.41" y="1111.17" width="8.6" height="26.88" fill="#2e8b57"/>
<rect x="815.41" y="945.91" width="8.6" height="165.26" fill="#32cd32"/>
<rect x="815.41" y="923.78" width="8.6" height="22.13" fill="#1e90ff"/>
<rect x="827.11" y="1112.62" width="8.6" height="25.43" fill="#2e8b57"/>
<rect x="827.11" y="930.13" width="8.6" height="182.49" fill="#32cd32"/>
<rect x="838.81" y="1102.28" width="8.6" height="35.77" fill="#2e8b57"/>
<rect x="838.81" y="1070.17" width="8.6" height="32.11" fill="#666666"/>
<rect x="838.81" y="1046.77" width="8.6" height="23.4" fill="#f0e68c"/>
<rect x="850.51" y="1119.7" width="8.6" height="18.35" fill="#2e8b57"/>
<rect x="850.51" y="905.28" width="8.6" height="214.42" fill="#32cd32"/>
<rect x="862.21" y="1103.19" width="8.6" height="34.86" fill="#2e8b57"/>
<rect x="862.21" y="953.17" width="8.6" height="150.02" fill="#32cd32"/>
<rect x="862.21" y="936.3" width="8.6" height="16.87" fill="#1e90ff"/>
<rect x="862.21" y="926.5" width="8.6" height="9.8" fill="#ffff00"/>
<rect x="873.91" y="1098.29" width="8.6" height="39.76" fill="#2e8b57"/>
<rect x="873.91" y="921.61" width="8.6" height="176.69" fill="#32cd32"/>
<rect x="873.91" y="900.55" width="8.6" height="21.06" fill="#1e90ff"/>
<rect x="885.61" y="1112.99" width="8.6" height="25.06" fill="#2e8b57"/>
<rect x="885.61" y="939.93" width="8.6" height="173.06" fill="#32cd32"/>
<rect x="885.61" y="917.8" width="8.6" height="22.13" fill="#1e90ff"/>
<rect x="897.31" y="1113.89" width="8.6" height="24.16" fill="#2e8b57"/>
<rect x="897.31" y="906.37" width="8.6" height="207.52" fill="#32cd32"/>
<rect x="909.01" y="1110.26" width="8.6" height="27.79" fill="#2e8b57"/>
<rect x="909.01" y="940.29" width="8.6" height="169.97" fill="#32cd32"/>
<rect x="909.01" y="914.17" width="8.6" height="26.12" fill="#1e90ff"/>
<rect x="920.7" y="1113.89" width="8.6" height="24.16" fill="#2e8b57"/>
<rect x="920.7" y="1066" width="8.6" height="47.89" fill="#00008b"/>
<rect x="920.7" y="1033.89" width="8.6" height="32.11" fill="#1e90ff"/>
<rect x="920.7" y="1009.59" width="8.6" height="24.31" fill="#666666"/>
<rect x="920.7" y="987.27" width="8.6" height="22.31" fill="#b3b3b3"/>
<rect x="932.4" y="1108.27" width="8.6" height="29.78" fill="#2e8b57"/>
<rect x="932.4" y="921.06" width="8.6" height="187.21" fill="#32cd32"/>
<rect x="944.1" y="1105.55" width="8.6" height="32.5" fill="#2e8b57"/>
<rect x="944.1" y="951.54" width="8.6" height="154.01" fill="#32cd32"/>
<rect x="944.1" y="916.89" width="8.6" height="34.65" fill="#1e90ff"/>
<rect x="955.8" y="1106.82" width="8.6" height="31.23" fill="#2e8b57"/>
<rect x="955.8" y="915.26" width="8.6" height="191.56" fill="#32cd32"/>
<rect x="967.5" y="1106.45" width="8.6" height="31.6" fill="#2e8b57"/>
<rect x="967.5" y="913.81" width="8.6" height="192.65" fill="#32cd32"/>
<rect x="979.2" y="1106.82" width="8.6" height="31.23" fill="#2e8b57"/>
<rect x="979.2" y="950.63" width="8.6" height="156.19" fill="#32cd32"/>
<rect x="979.2" y="900.55" width="8.6" height="50.08" fill="#00008b"/>
<rect x="990.9" y="1110.45" width="8.6" height="27.6" fill="#2e8b57"/>
<rect x="990.9" y="935.03" width="8.6" height="175.42" fill="#32cd32"/>
<rect x="990.9" y="900.55" width="8.6" height="34.48" fill="#1e90ff"/>
<rect x="1002.6" y="1118.97" width="8.6" height="19.08" fill="#2e8b57"/>
<rect x="1002.6" y="920.15" width="8.6" height="198.82" fill="#32cd32"/>
<rect x="1014.3" y="1103.19" width="8.6" height="34.86" fill="#2e8b57"/>
<rect x="1014.3" y="972.58" width="8.6" height="130.61" fill="#32cd32"/>
<rect x="1014.3" y="937.02" width="8.6" height="35.55" fill="#1e90ff"/>
<rect x="1014.3" y="921.06" width="8.6" height="15.96" fill="#f0e68c"/>
<rect x="1026" y="1105.55" width="8.6" height="32.5" fill="#2e8b57"/>
<rect x="1026" y="913.44" width="8.6" height="192.11" fill="#32cd32"/>
<rect x="1037.69" y="1103.73" width="8.6" height="34.32" fill="#2e8b57"/>
<rect x="1037.69" y="1075.07" width="8.6" height="28.66" fill="#1e90ff"/>
<rect x="1037.69" y="999.79" width="8.6" height="75.28" fill="#87cefa"/>
<rect x="1037.69" y="976.03" width="8.6" height="23.76" fill="#666666"/>
<rect x="1037.69" y="957.34" width="8.6" height="18.68" fill="#f0e68c"/>
<rect x="1037.69" y="916.16" width="8.6" height="41.18" fill="#b3b3b3"/>
<rect x="1049.39" y="1099.38" width="8.6" height="38.67" fill="#2e8b57"/>
<rect x="1049.39" y="1010.13" width="8.6" height="89.25" fill="#00008b"/>
<rect x="1049.39" y="979.11" width="8.6" height="31.02" fill="#666666"/>
<rect x="1049.39" y="964.42" width="8.6" height="14.69" fill="#ffff00"/>
<rect x="1049.39" y="937.02" width="8.6" height="27.39" fill="#f0e68c"/>
<rect x="1061.09" y="1104.28" width="8.6" height="33.77" fill="#2e8b57"/>
<rect x="1061.09" y="931.95" width="8.6" height="172.33" fill="#32cd32"/>
<rect x="1072.79" y="1114.62" width="8.6" height="23.43" fill="#2e8b57"/>
<rect x="1072.79" y="968.41" width="8.6" height="146.21" fill="#32cd32"/>
<rect x="1084.49" y="1106.09" width="8.6" height="31.96" fill="#2e8b57"/>
<rect x="1084.49" y="934.85" width="8.6" height="171.24" fill="#32cd32"/>
<rect x="1096.19" y="1103.01" width="8.6" height="35.04" fill="#2e8b57"/>
<rect x="1096.19" y="1068.36" width="8.6" height="34.65" fill="#1e90ff"/>
<rect x="1096.19" y="993.08" width="8.6" height="75.28" fill="#87cefa"/>
<rect x="1096.19" y="972.94" width="8.6" height="20.14" fill="#666666"/>
<rect x="1096.19" y="954.98" width="8.6" height="17.96" fill="#f0e68c"/>
<rect x="1107.89" y="1104.1" width="8.6" height="33.95" fill="#2e8b57"/>
<rect x="1107.89" y="1049.86" width="8.6" height="54.24" fill="#1e90ff"/>
<rect x="1107.89" y="1012.31" width="8.6" height="37.55" fill="#666666"/>
<rect x="1107.89" y="993.08" width="8.6" height="19.23" fill="#f0e68c"/>
<rect x="1119.59" y="1109.36" width="8.6" height="28.69" fill="#2e8b57"/>
<rect x="1119.59" y="998.88" width="8.6" height="110.47" fill="#00008b"/>
<rect x="1119.59" y="977.11" width="8.6" height="21.77" fill="#666666"/>
<rect x="1119.59" y="954.26" width="8.6" height="22.86" fill="#b3b3b3"/>
<rect x="1131.29" y="1102.1" width="8.6" height="35.95" fill="#2e8b57"/>
<rect x="1131.29" y="934.12" width="8.6" height="167.98" fill="#32cd32"/>
<rect x="1131.29" y="900.55" width="8.6" height="33.57" fill="#1e90ff"/>
<rect x="1142.99" y="1104.28" width="8.6" height="33.77" fill="#2e8b57"/>
<rect x="1142.99" y="1054.03" width="8.6" height="50.25" fill="#1e90ff"/>
<rect x="1142.99" y="1024.1" width="8.6" height="29.93" fill="#666666"/>
<rect x="1142.99" y="1003.24" width="8.6" height="20.86" fill="#f0e68c"/>
<rect x="1142.99" y="974.94" width="8.6" height="28.3" fill="#b3b3b3"/>
<rect x="1154.68" y="1108.45" width="8.6" height="29.6" fill="#2e8b57"/>
<rect x="1154.68" y="908.18" width="8.6" height="200.27" fill="#32cd32"/>
<rect x="1166.38" y="1105.18" width="8.6" height="32.87" fill="#2e8b57"/>
<rect x="1166.38" y="1060.38" width="8.6" height="44.81" fill="#1e90ff"/>
<rect x="1166.38" y="1032.26" width="8.6" height="28.12" fill="#666666"/>
<rect x="1166.38" y="994.17" width="8.6" height="38.09" fill="#f0e68c"/>
<rect x="1166.38" y="957.16" width="8.6" height="37.01" fill="#b3b3b3"/>
<rect x="1178.08" y="1113.35" width="8.6" height="24.7" fill="#2e8b57"/>
<rect x="1178.08" y="919.61" width="8.6" height="193.74" fill="#32cd32"/>
<rect x="1189.78" y="1100.29" width="8.6" height="37.76" fill="#2e8b57"/>
<rect x="1189.78" y="1052.4" width="8.6" height="47.89" fill="#1e90ff"/>
<rect x="1189.78" y="1029" width="8.6" height="23.4" fill="#666666"/>
<rect x="1189.78" y="997.25" width="8.6" height="31.75" fill="#b3b3b3"/>
<rect x="1201.48" y="1112.08" width="8.6" height="25.97" fill="#2e8b57"/>
<rect x="1201.48" y="914.53" width="8.6" height="197.55" fill="#32cd32"/>
<rect x="1213.18" y="1116.07" width="8.6" height="21.98" fill="#2e8b57"/>
<rect x="1213.18" y="900.55" width="8.6" height="215.52" fill="#32cd32"/>
<rect x="1224.88" y="1091.04" width="8.6" height="47.01" fill="#2e8b57"/>
<rect x="1224.88" y="1054.75" width="8.6" height="36.28" fill="#1e90ff"/>
<rect x="1224.88" y="1020.65" width="8.6" height="34.1" fill="#666666"/>
<rect x="1236.58" y="1099.38" width="8.6" height="38.67" fill="#2e8b57"/>
<rect x="1236.58" y="929.22" width="8.6" height="170.16" fill="#32cd32"/>
<rect x="1236.58" y="900.55" width="8.6" height="28.67" fill="#1e90ff"/>
<rect x="1248.28" y="1113.35" width="8.6" height="24.7" fill="#2e8b57"/>
<rect x="1248.28" y="995.44" width="8.6" height="117.91" fill="#32cd32"/>
<rect x="1248.28" y="913.26" width="8.6" height="82.18" fill="#87cefa"/>
<rect x="1259.98" y="1102.83" width="8.6" height="35.22" fill="#2e8b57"/>
<rect x="1259.98" y="1056.57" width="8.6" height="46.26" fill="#1e90ff"/>
<rect x="1259.98" y="1020.11" width="8.6" height="36.46" fill="#666666"/>
<rect x="1259.98" y="988.54" width="8.6" height="31.56" fill="#f0e68c"/>
<rect x="1259.98" y="949.18" width="8.6" height="39.36" fill="#b3b3b3"/>
<rect x="1271.67" y="1108.81" width="8.6" height="29.24" fill="#2e8b57"/>
<rect x="1271.67" y="900.55" width="8.6" height="208.26" fill="#32cd32"/>
<rect x="1283.37" y="1085.05" width="8.6" height="53" fill="#2e8b57"/>
<rect x="1283.37" y="1005.05" width="8.6" height="80" fill="#00008b"/>
<rect x="1283.37" y="978.38" width="8.6" height="26.67" fill="#666666"/>
<rect x="1295.07" y="1116.07" width="8.6" height="21.98" fill="#2e8b57"/>
<rect x="1295.07" y="900.55" width="8.6" height="215.52" fill="#32cd32"/>
<rect x="1306.77" y="1113.71" width="8.6" height="24.34" fill="#2e8b57"/>
<rect x="1306.77" y="978.57" width="8.6" height="135.14" fill="#32cd32"/>
<rect x="1306.77" y="924.15" width="8.6" height="54.42" fill="#00008b"/>
<rect x="1318.47" y="1022.65" width="8.6" height="115.4" fill="#00008b"/>
<rect x="1318.47" y="992.35" width="8.6" height="30.29" fill="#f0e68c"/>
<rect x="1330.17" y="1111.53" width="8.6" height="26.52" fill="#2e8b57"/>
<rect x="1330.17" y="900.55" width="8.6" height="210.98" fill="#32cd32"/>
<rect x="1341.87" y="1094.12" width="8.6" height="43.93" fill="#2e8b57"/>
<rect x="1341.87" y="1009.22" width="8.6" height="84.9" fill="#1e90ff"/>
<rect x="1353.57" y="1105" width="8.6" height="33.05" fill="#2e8b57"/>
<rect x="1353.57" y="1029.9" width="8.6" height="75.1" fill="#1e90ff"/>
<rect x="1353.57" y="949.18" width="8.6" height="80.72" fill="#b3b3b3"/>
<text x="142.9" y="1146.75" font-size="29.2" text-anchor="end">0</text>
<text x="142.9" y="1099.2" font-size="29.2" text-anchor="end">20</text>
<text x="142.9" y="1052.05" font-size="29.2" text-anchor="end">40</text>
<text x="142.9" y="1003.9" font-size="29.2" text-anchor="end">60</text>
<text x="142.9" y="956.75" font-size="29.2" text-anchor="end">80</text>
<text x="142.9" y="909.4" font-size="29.2" text-anchor="end">100</text>
<text transform="translate(34.1 1018.5) rotate(-90)" font-size="29" text-anchor="middle">Signature</text>
<text transform="translate(70 1019.3) rotate(-90)" font-size="29" text-anchor="middle">contributions (%)</text>
</g>
<rect x="1414.3" y="920.6" width="15" height="17.4" fill="#fbb4d9" stroke="#111" stroke-width="1.25"/>
<text x="1441.4" y="938.7" font-size="24.85" text-anchor="start">SBS7a</text>
<rect x="1414.3" y="949.65" width="15" height="17.4" fill="#f768b1" stroke="#111" stroke-width="1.25"/>
<text x="1441.4" y="967.75" font-size="24.85" text-anchor="start">SBS7b</text>
<rect x="1414.3" y="978.7" width="15" height="17.4" fill="#2e8b57" stroke="#111" stroke-width="1.25"/>
<text x="1441.4" y="996.8" font-size="24.85" text-anchor="start">SBS1</text>
<rect x="1414.3" y="1007.75" width="15" height="17.4" fill="#32cd32" stroke="#111" stroke-width="1.25"/>
<text x="1441.4" y="1025.85" font-size="24.85" text-anchor="start">SBS5</text>
<rect x="1414.3" y="1036.8" width="15" height="17.4" fill="#f0f0f0" stroke="#111" stroke-width="1.25"/>
<text x="1441.4" y="1054.9" font-size="24.85" text-anchor="start">SBS58</text>
<rect x="1414.3" y="1065.85" width="15" height="17.4" fill="#00008b" stroke="#111" stroke-width="1.25"/>
<text x="1441.4" y="1083.95" font-size="24.85" text-anchor="start">SBS3</text>
<rect x="1595" y="920.6" width="15" height="17.4" fill="#1e90ff" stroke="#111" stroke-width="1.25"/>
<text x="1622.1" y="938.7" font-size="24.85" text-anchor="start">SBS39</text>
<rect x="1595" y="949.65" width="15" height="17.4" fill="#87cefa" stroke="#111" stroke-width="1.25"/>
<text x="1622.1" y="967.75" font-size="24.85" text-anchor="start">SBS40</text>
<rect x="1595" y="978.7" width="15" height="17.4" fill="#666666" stroke="#111" stroke-width="1.25"/>
<text x="1622.1" y="996.8" font-size="24.85" text-anchor="start">SBS16</text>
<rect x="1595" y="1007.75" width="15" height="17.4" fill="#ffff00" stroke="#111" stroke-width="1.25"/>
<text x="1622.1" y="1025.85" font-size="24.85" text-anchor="start">SBS38</text>
<rect x="1595" y="1036.8" width="15" height="17.4" fill="#f0e68c" stroke="#111" stroke-width="1.25"/>
<text x="1622.1" y="1054.9" font-size="24.85" text-anchor="start">SBS30</text>
<rect x="1595" y="1065.85" width="15" height="17.4" fill="#b3b3b3" stroke="#111" stroke-width="1.25"/>
<text x="1622.1" y="1083.95" font-size="24.85" text-anchor="start">SBS12</text>
<g id="panel-d">
<line x1="158.55" y1="1180.75" x2="158.55" y2="1351.2" stroke="#000" stroke-width="1.1"/>
<line x1="1363.55" y1="1180.75" x2="1363.55" y2="1351.2" stroke="#000" stroke-width="1.1"/>
<line x1="153" y1="1180.75" x2="1369.1" y2="1180.75" stroke="#000" stroke-width="1.1"/>
<line x1="153" y1="1351.2" x2="1369.1" y2="1351.2" stroke="#000" stroke-width="1.1"/>
<line x1="153" y1="1308.59" x2="158.55" y2="1308.59" stroke="#000" stroke-width="1.1"/>
<line x1="1363.55" y1="1308.59" x2="1369.1" y2="1308.59" stroke="#000" stroke-width="1.1"/>
<line x1="153" y1="1265.97" x2="158.55" y2="1265.97" stroke="#000" stroke-width="1.1"/>
<line x1="1363.55" y1="1265.97" x2="1369.1" y2="1265.97" stroke="#000" stroke-width="1.1"/>
<line x1="153" y1="1223.36" x2="158.55" y2="1223.36" stroke="#000" stroke-width="1.1"/>
<line x1="1363.55" y1="1223.36" x2="1369.1" y2="1223.36" stroke="#000" stroke-width="1.1"/>
<rect x="160.27" y="1286.8" width="8.6" height="63.9" fill="#fbb4d9"/>
<rect x="160.27" y="1279.3" width="8.6" height="7.5" fill="#666666"/>
<rect x="171.97" y="1269.6" width="8.6" height="81.1" fill="#fbb4d9"/>
<rect x="171.97" y="1260.2" width="8.6" height="9.4" fill="#666666"/>
<rect x="183.67" y="1206" width="8.6" height="144.7" fill="#fbb4d9"/>
<rect x="183.67" y="1189" width="8.6" height="17" fill="#666666"/>
<rect x="195.37" y="1253.1" width="8.6" height="97.6" fill="#fbb4d9"/>
<rect x="195.37" y="1242.7" width="8.6" height="10.4" fill="#666666"/>
<rect x="230.46" y="1335" width="8.6" height="15.7" fill="#fbb4d9"/>
<rect x="230.46" y="1333.1" width="8.6" height="1.9" fill="#666666"/>
<rect x="242.16" y="1332" width="8.6" height="18.7" fill="#fbb4d9"/>
<rect x="242.16" y="1329.6" width="8.6" height="2.4" fill="#666666"/>
<rect x="265.56" y="1342.8" width="8.6" height="7.9" fill="#fbb4d9"/>
<rect x="265.56" y="1340.4" width="8.6" height="2.4" fill="#666666"/>
<rect x="288.96" y="1350.4" width="8.6" height="0.3" fill="#fbb4d9"/>
<rect x="288.96" y="1349.9" width="8.6" height="0.5" fill="#666666"/>
<rect x="300.66" y="1350.4" width="8.6" height="0.3" fill="#fbb4d9"/>
<rect x="300.66" y="1350.2" width="8.6" height="0.2" fill="#666666"/>
<text x="142.6" y="1361.5" font-size="29.2" text-anchor="end">0</text>
<text x="142.6" y="1318.09" font-size="29.2" text-anchor="end">2000</text>
<text x="142.6" y="1275.17" font-size="29.2" text-anchor="end">4000</text>
<text x="142.6" y="1231.96" font-size="29.2" text-anchor="end">6000</text>
<text x="142.6" y="1189" font-size="29.2" text-anchor="end">8000</text>
<text transform="translate(23.5 1265.8) rotate(-90)" font-size="29" text-anchor="middle">Double base</text>
<text transform="translate(58.9 1266.2) rotate(-90)" font-size="29" text-anchor="middle">substitutions</text>
</g>
<rect x="1414.3" y="1189.4" width="15" height="17.4" fill="#fbb4d9" stroke="#111" stroke-width="1.25"/>
<text x="1441" y="1207" font-size="24.85" text-anchor="start">DBS1</text>
<rect x="1414.3" y="1223.4" width="15" height="17.4" fill="#666666" stroke="#111" stroke-width="1.25"/>
<text x="1441" y="1241" font-size="24.85" text-anchor="start">Other</text>
<text x="-1" y="23" font-size="39.5" text-anchor="start" font-weight="bold">a</text>
<text x="-1" y="649.2" font-size="40" text-anchor="start" font-weight="bold">b</text>
<text x="-1" y="899.6" font-size="39.5" text-anchor="start" font-weight="bold">c</text>
</svg>
</body>
</html>
